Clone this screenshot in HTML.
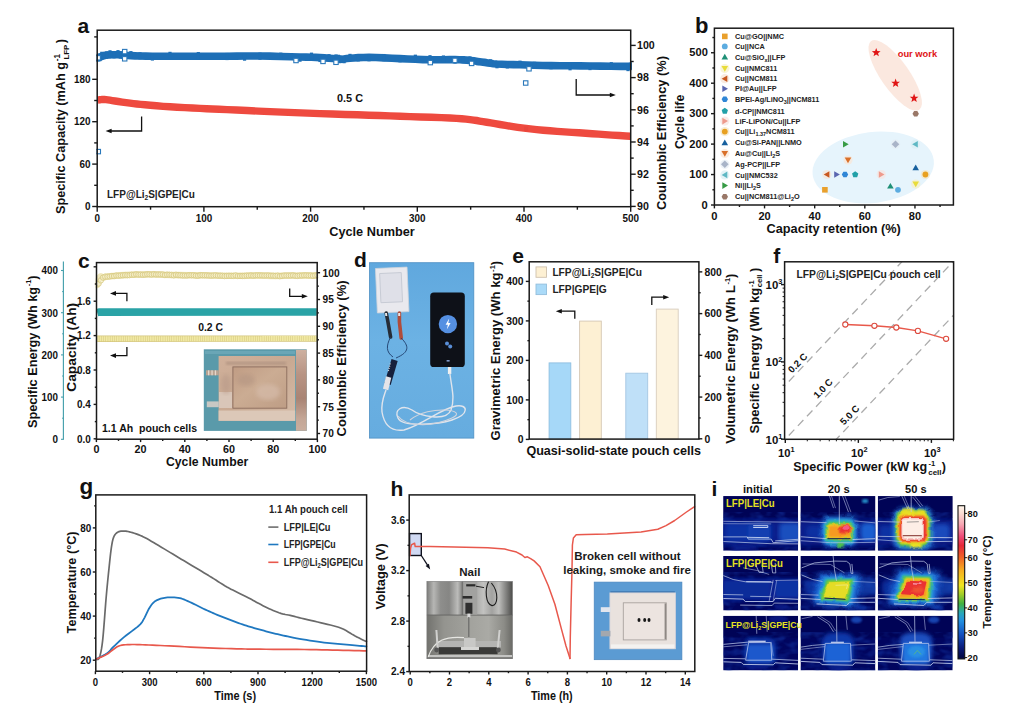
<!DOCTYPE html>
<html><head><meta charset="utf-8"><title>Figure</title>
<style>html,body{margin:0;padding:0;background:#fff;}svg{display:block;}text{font-family:"Liberation Sans",sans-serif;}</style>
</head><body>
<svg width="1024" height="713" viewBox="0 0 1024 713">
<defs>
<clipPath id="clipA"><rect x="96.2" y="30.2" width="535.5" height="176.5"/></clipPath><clipPath id="clipC"><rect x="95.5" y="262.6" width="222.7" height="176.59999999999997"/></clipPath><linearGradient id="pouchC" x1="0" y1="0" x2="1" y2="1"><stop offset="0" stop-color="#d0b09a"/><stop offset="0.5" stop-color="#c8a992"/><stop offset="1" stop-color="#d6bca8"/></linearGradient>
<linearGradient id="pouchCin" x1="0" y1="0" x2="1" y2="1"><stop offset="0" stop-color="#c09c84"/><stop offset="0.45" stop-color="#cbac93"/><stop offset="1" stop-color="#be9d85"/></linearGradient>
<linearGradient id="rulerC" x1="0" y1="0" x2="0" y2="1"><stop offset="0" stop-color="#cdb0a0"/><stop offset="0.3" stop-color="#b89484"/><stop offset="0.6" stop-color="#a98474"/><stop offset="0.85" stop-color="#c4a696"/><stop offset="1" stop-color="#c9ae9e"/></linearGradient>
<filter id="b05"><feGaussianBlur stdDeviation="0.5"/></filter><filter id="b1"><feGaussianBlur stdDeviation="1"/></filter><filter id="b2"><feGaussianBlur stdDeviation="2"/></filter><filter id="b3"><feGaussianBlur stdDeviation="3"/></filter><filter id="b4"><feGaussianBlur stdDeviation="4.5"/></filter><linearGradient id="bgD" x1="0" y1="0" x2="0" y2="1"><stop offset="0" stop-color="#60a8de"/><stop offset="0.45" stop-color="#6cb2e4"/><stop offset="1" stop-color="#66acdf"/></linearGradient><clipPath id="clipF"><rect x="784.6" y="261.8" width="169.0" height="177.5"/></clipPath><linearGradient id="steelT" x1="0" y1="0" x2="1" y2="0"><stop offset="0" stop-color="#7c7c7a"/><stop offset="0.08" stop-color="#b6b6b4"/><stop offset="0.16" stop-color="#8e8e8c"/><stop offset="0.26" stop-color="#868684"/><stop offset="0.36" stop-color="#bcbcba"/><stop offset="0.42" stop-color="#7a7a78"/><stop offset="0.52" stop-color="#9c9c9a"/><stop offset="0.66" stop-color="#c2c2c0"/><stop offset="0.76" stop-color="#a2a2a0"/><stop offset="0.84" stop-color="#bebebc"/><stop offset="0.93" stop-color="#7e7e7c"/><stop offset="1" stop-color="#4c4c4a"/></linearGradient>
<linearGradient id="steelB" x1="0" y1="0" x2="1" y2="0"><stop offset="0" stop-color="#72726e"/><stop offset="0.2" stop-color="#94948f"/><stop offset="0.5" stop-color="#a2a29d"/><stop offset="0.72" stop-color="#aaaaa5"/><stop offset="0.9" stop-color="#8c8c87"/><stop offset="1" stop-color="#6a6a66"/></linearGradient><linearGradient id="cbar" x1="0" y1="1" x2="0" y2="0"><stop offset="0" stop-color="#03063c"/><stop offset="0.07" stop-color="#0a1a78"/><stop offset="0.16" stop-color="#1450c0"/><stop offset="0.25" stop-color="#2290e0"/><stop offset="0.30" stop-color="#28a8b8"/><stop offset="0.36" stop-color="#40b040"/><stop offset="0.42" stop-color="#a0cc28"/><stop offset="0.48" stop-color="#f0e420"/><stop offset="0.58" stop-color="#f6ac20"/><stop offset="0.66" stop-color="#f06424"/><stop offset="0.74" stop-color="#e62838"/><stop offset="0.80" stop-color="#ee4c78"/><stop offset="0.88" stop-color="#f6a8b4"/><stop offset="0.95" stop-color="#fadcd4"/><stop offset="1" stop-color="#fff6ea"/></linearGradient>
<filter id="tnoise" x="0" y="0" width="100%" height="100%" color-interpolation-filters="sRGB"><feTurbulence type="fractalNoise" baseFrequency="0.09 0.16" numOctaves="2" seed="5"/><feColorMatrix type="matrix" values="0 0 0 0 0.07  0 0 0 0 0.20  0 0 0 0 0.62  2.6 0 0 0 -1.05"/><feGaussianBlur stdDeviation="0.6"/></filter>
<filter id="rough" x="-10%" y="-10%" width="120%" height="120%"><feTurbulence type="fractalNoise" baseFrequency="0.16" numOctaves="2" seed="11" result="t"/><feDisplacementMap in="SourceGraphic" in2="t" scale="3.4" xChannelSelector="R" yChannelSelector="G"/></filter>
<filter id="b15"><feGaussianBlur stdDeviation="1.5"/></filter><filter id="b07"><feGaussianBlur stdDeviation="0.7"/></filter><clipPath id="ci00"><rect x="723.2" y="496.1" width="74.9" height="54.6"/></clipPath><clipPath id="ci01"><rect x="800.5" y="496.1" width="74.9" height="54.6"/></clipPath><clipPath id="ci02"><rect x="877.8" y="496.1" width="74.9" height="54.6"/></clipPath><clipPath id="ci10"><rect x="723.2" y="555.9" width="74.9" height="54.6"/></clipPath><clipPath id="ci11"><rect x="800.5" y="555.9" width="74.9" height="54.6"/></clipPath><clipPath id="ci12"><rect x="877.8" y="555.9" width="74.9" height="54.6"/></clipPath><clipPath id="ci20"><rect x="723.2" y="615.8" width="74.9" height="54.6"/></clipPath><clipPath id="ci21"><rect x="800.5" y="615.8" width="74.9" height="54.6"/></clipPath><clipPath id="ci22"><rect x="877.8" y="615.8" width="74.9" height="54.6"/></clipPath>
</defs>
<rect width="1024" height="713" fill="#ffffff"/>
<g clip-path="url(#clipA)">
<polyline points="97.60,100.20 98.17,100.08 98.99,99.90 99.96,99.72 101.00,99.60 102.04,99.52 103.15,99.47 104.43,99.49 106.00,99.60 107.83,99.83 109.88,100.16 112.23,100.56 115.00,101.00 118.33,101.51 122.12,102.09 126.11,102.67 130.00,103.20 133.52,103.63 136.88,104.01 140.55,104.39 145.00,104.80 150.43,105.28 156.56,105.80 163.16,106.32 170.00,106.80 177.22,107.24 184.88,107.65 192.59,108.04 200.00,108.40 206.59,108.71 212.69,108.98 219.20,109.25 227.00,109.60 236.46,110.04 247.06,110.55 258.38,111.08 270.00,111.60 282.03,112.11 294.62,112.62 307.41,113.13 320.00,113.60 332.51,114.03 345.06,114.44 357.34,114.82 369.00,115.20 379.84,115.56 390.06,115.91 400.01,116.25 410.00,116.60 420.54,116.95 431.31,117.29 441.43,117.64 450.00,118.00 456.57,118.38 461.69,118.76 465.96,119.17 470.00,119.60 473.65,120.05 476.69,120.52 479.63,121.03 483.00,121.60 486.80,122.24 490.81,122.94 495.16,123.70 500.00,124.50 505.46,125.39 511.44,126.37 517.70,127.33 524.00,128.20 530.29,128.94 536.69,129.61 543.24,130.22 550.00,130.80 557.11,131.35 564.50,131.85 571.89,132.33 579.00,132.80 585.73,133.27 592.23,133.72 598.62,134.16 605.00,134.60 611.97,135.07 619.27,135.56 625.77,136.00 630.30,136.30" fill="none" stroke="#ee4a3f" stroke-width="7.4" stroke-linejoin="round" stroke-linecap="butt"/>
<polyline points="97.60,58.50 97.99,58.27 98.55,57.95 99.23,57.58 100.00,57.20 100.84,56.80 101.78,56.36 102.82,55.94 104.00,55.60 105.31,55.35 106.75,55.16 108.31,55.01 110.00,54.90 111.89,54.82 113.96,54.77 116.04,54.77 118.00,54.80 119.56,54.88 120.89,55.00 122.45,55.15 124.70,55.30 127.58,55.47 130.89,55.66 134.94,55.85 140.00,56.00 145.83,56.11 152.39,56.20 160.26,56.26 170.00,56.30 182.91,56.31 198.31,56.28 213.80,56.24 227.00,56.20 236.77,56.13 244.56,56.03 251.82,55.97 260.00,56.00 269.98,56.17 280.81,56.45 291.24,56.75 300.00,57.00 306.50,57.16 311.50,57.29 315.75,57.42 320.00,57.60 324.56,57.87 329.00,58.20 332.94,58.53 336.00,58.80 337.70,59.03 338.38,59.25 338.86,59.39 340.00,59.40 341.87,59.22 344.06,58.89 346.73,58.51 350.00,58.20 353.84,57.93 358.19,57.65 363.20,57.45 369.00,57.40 375.93,57.56 383.81,57.88 392.04,58.25 400.00,58.60 407.69,58.93 415.38,59.29 422.88,59.60 430.00,59.80 436.84,59.82 443.44,59.72 449.57,59.61 455.00,59.60 459.45,59.70 463.12,59.86 466.48,60.09 470.00,60.40 473.82,60.85 477.69,61.41 481.46,61.99 485.00,62.50 487.95,62.93 490.50,63.33 493.30,63.69 497.00,64.00 501.79,64.25 507.31,64.44 513.43,64.62 520.00,64.80 527.00,65.01 534.50,65.22 542.50,65.43 551.00,65.60 560.21,65.73 570.06,65.82 580.13,65.91 590.00,66.00 600.41,66.11 611.29,66.22 621.03,66.33 628.00,66.40 631.14,66.43 631.52,66.43 630.72,66.41 630.30,66.40" fill="none" stroke="#1e6fb6" stroke-width="7.6" stroke-linejoin="round" stroke-linecap="butt"/>
<rect x="96.00" y="54.48" width="3.20" height="7.20" fill="#1e6fb6" stroke="none" stroke-width="1" />
<rect x="96.95" y="53.51" width="3.20" height="7.20" fill="#1e6fb6" stroke="none" stroke-width="1" />
<rect x="98.40" y="53.96" width="3.20" height="7.20" fill="#1e6fb6" stroke="none" stroke-width="1" />
<rect x="100.18" y="51.74" width="3.20" height="7.20" fill="#1e6fb6" stroke="none" stroke-width="1" />
<rect x="102.40" y="52.09" width="3.20" height="7.20" fill="#1e6fb6" stroke="none" stroke-width="1" />
<rect x="105.15" y="51.23" width="3.20" height="7.20" fill="#1e6fb6" stroke="none" stroke-width="1" />
<rect x="108.40" y="50.24" width="3.20" height="7.20" fill="#1e6fb6" stroke="none" stroke-width="1" />
<rect x="112.36" y="51.19" width="3.20" height="7.20" fill="#1e6fb6" stroke="none" stroke-width="1" />
<rect x="116.40" y="50.09" width="3.20" height="7.20" fill="#1e6fb6" stroke="none" stroke-width="1" />
<rect x="119.29" y="51.24" width="3.20" height="7.20" fill="#1e6fb6" stroke="none" stroke-width="1" />
<rect x="123.10" y="50.67" width="3.20" height="7.20" fill="#1e6fb6" stroke="none" stroke-width="1" />
<rect x="129.29" y="51.08" width="3.20" height="7.20" fill="#1e6fb6" stroke="none" stroke-width="1" />
<rect x="138.40" y="52.22" width="3.20" height="7.20" fill="#1e6fb6" stroke="none" stroke-width="1" />
<rect x="150.79" y="53.38" width="3.20" height="7.20" fill="#1e6fb6" stroke="none" stroke-width="1" />
<rect x="168.40" y="51.80" width="3.20" height="7.20" fill="#1e6fb6" stroke="none" stroke-width="1" />
<rect x="196.71" y="52.02" width="3.20" height="7.20" fill="#1e6fb6" stroke="none" stroke-width="1" />
<rect x="225.40" y="52.91" width="3.20" height="7.20" fill="#1e6fb6" stroke="none" stroke-width="1" />
<rect x="242.96" y="53.51" width="3.20" height="7.20" fill="#1e6fb6" stroke="none" stroke-width="1" />
<rect x="258.40" y="52.59" width="3.20" height="7.20" fill="#1e6fb6" stroke="none" stroke-width="1" />
<rect x="279.21" y="52.60" width="3.20" height="7.20" fill="#1e6fb6" stroke="none" stroke-width="1" />
<rect x="298.40" y="54.54" width="3.20" height="7.20" fill="#1e6fb6" stroke="none" stroke-width="1" />
<rect x="309.90" y="52.60" width="3.20" height="7.20" fill="#1e6fb6" stroke="none" stroke-width="1" />
<rect x="318.40" y="54.86" width="3.20" height="7.20" fill="#1e6fb6" stroke="none" stroke-width="1" />
<rect x="327.40" y="54.10" width="3.20" height="7.20" fill="#1e6fb6" stroke="none" stroke-width="1" />
<rect x="334.40" y="54.35" width="3.20" height="7.20" fill="#1e6fb6" stroke="none" stroke-width="1" />
<rect x="336.77" y="54.73" width="3.20" height="7.20" fill="#1e6fb6" stroke="none" stroke-width="1" />
<rect x="338.40" y="55.34" width="3.20" height="7.20" fill="#1e6fb6" stroke="none" stroke-width="1" />
<rect x="342.46" y="56.05" width="3.20" height="7.20" fill="#1e6fb6" stroke="none" stroke-width="1" />
<rect x="348.40" y="53.83" width="3.20" height="7.20" fill="#1e6fb6" stroke="none" stroke-width="1" />
<rect x="356.59" y="54.25" width="3.20" height="7.20" fill="#1e6fb6" stroke="none" stroke-width="1" />
<rect x="367.40" y="54.13" width="3.20" height="7.20" fill="#1e6fb6" stroke="none" stroke-width="1" />
<rect x="382.21" y="53.97" width="3.20" height="7.20" fill="#1e6fb6" stroke="none" stroke-width="1" />
<rect x="398.40" y="55.11" width="3.20" height="7.20" fill="#1e6fb6" stroke="none" stroke-width="1" />
<rect x="413.77" y="54.64" width="3.20" height="7.20" fill="#1e6fb6" stroke="none" stroke-width="1" />
<rect x="428.40" y="55.14" width="3.20" height="7.20" fill="#1e6fb6" stroke="none" stroke-width="1" />
<rect x="441.84" y="55.42" width="3.20" height="7.20" fill="#1e6fb6" stroke="none" stroke-width="1" />
<rect x="453.40" y="56.43" width="3.20" height="7.20" fill="#1e6fb6" stroke="none" stroke-width="1" />
<rect x="461.52" y="56.08" width="3.20" height="7.20" fill="#1e6fb6" stroke="none" stroke-width="1" />
<rect x="468.40" y="56.35" width="3.20" height="7.20" fill="#1e6fb6" stroke="none" stroke-width="1" />
<rect x="476.09" y="58.01" width="3.20" height="7.20" fill="#1e6fb6" stroke="none" stroke-width="1" />
<rect x="483.40" y="58.79" width="3.20" height="7.20" fill="#1e6fb6" stroke="none" stroke-width="1" />
<rect x="488.90" y="59.25" width="3.20" height="7.20" fill="#1e6fb6" stroke="none" stroke-width="1" />
<rect x="495.40" y="61.11" width="3.20" height="7.20" fill="#1e6fb6" stroke="none" stroke-width="1" />
<rect x="505.71" y="61.32" width="3.20" height="7.20" fill="#1e6fb6" stroke="none" stroke-width="1" />
<rect x="518.40" y="60.59" width="3.20" height="7.20" fill="#1e6fb6" stroke="none" stroke-width="1" />
<rect x="532.90" y="61.80" width="3.20" height="7.20" fill="#1e6fb6" stroke="none" stroke-width="1" />
<rect x="549.40" y="62.06" width="3.20" height="7.20" fill="#1e6fb6" stroke="none" stroke-width="1" />
<rect x="568.46" y="63.13" width="3.20" height="7.20" fill="#1e6fb6" stroke="none" stroke-width="1" />
<rect x="588.40" y="62.95" width="3.20" height="7.20" fill="#1e6fb6" stroke="none" stroke-width="1" />
<rect x="609.69" y="62.12" width="3.20" height="7.20" fill="#1e6fb6" stroke="none" stroke-width="1" />
<rect x="626.40" y="63.95" width="3.20" height="7.20" fill="#1e6fb6" stroke="none" stroke-width="1" />
<rect x="629.92" y="61.91" width="3.20" height="7.20" fill="#1e6fb6" stroke="none" stroke-width="1" />
<rect x="628.70" y="62.60" width="3.20" height="7.20" fill="#1e6fb6" stroke="none" stroke-width="1" />
<rect x="122.50" y="49.40" width="4.40" height="4.40" fill="#ffffff" stroke="#2a78bb" stroke-width="1.1" />
<rect x="122.50" y="56.60" width="4.40" height="4.40" fill="#ffffff" stroke="#2a78bb" stroke-width="1.1" />
<rect x="96.00" y="55.60" width="4.40" height="4.40" fill="#ffffff" stroke="#2a78bb" stroke-width="1.1" />
<rect x="428.10" y="60.40" width="4.40" height="4.40" fill="#ffffff" stroke="#2a78bb" stroke-width="1.1" />
<rect x="452.70" y="58.20" width="4.40" height="4.40" fill="#ffffff" stroke="#2a78bb" stroke-width="1.1" />
<rect x="469.40" y="61.20" width="4.40" height="4.40" fill="#ffffff" stroke="#2a78bb" stroke-width="1.1" />
<rect x="526.80" y="66.60" width="4.40" height="4.40" fill="#ffffff" stroke="#2a78bb" stroke-width="1.1" />
<rect x="523.50" y="80.80" width="4.40" height="4.40" fill="#ffffff" stroke="#2a78bb" stroke-width="1.1" />
<rect x="96.10" y="149.40" width="4.40" height="4.40" fill="#ffffff" stroke="#2a78bb" stroke-width="1.1" />
<rect x="293.80" y="58.30" width="4.40" height="4.40" fill="#ffffff" stroke="#2a78bb" stroke-width="1.1" />
<rect x="320.80" y="59.20" width="4.40" height="4.40" fill="#ffffff" stroke="#2a78bb" stroke-width="1.1" />
<rect x="333.80" y="60.10" width="4.40" height="4.40" fill="#ffffff" stroke="#2a78bb" stroke-width="1.1" />
<rect x="524.20" y="126.60" width="4.00" height="4.50" fill="#e8463c" stroke="none" stroke-width="1" />
</g>
<rect x="97.20" y="30.20" width="533.50" height="176.50" fill="none" stroke="#1a1a1a" stroke-width="1.5" />
<line x1="92.20" y1="206.50" x2="97.20" y2="206.50" stroke="#1a1a1a" stroke-width="1.4" />
<text x="90.40" y="210.24" font-size="10.4" font-weight="bold" text-anchor="end" fill="#111" font-family="Liberation Sans, sans-serif" textLength="5.5" lengthAdjust="spacingAndGlyphs" >0</text>
<line x1="92.20" y1="164.10" x2="97.20" y2="164.10" stroke="#1a1a1a" stroke-width="1.4" />
<text x="90.40" y="167.84" font-size="10.4" font-weight="bold" text-anchor="end" fill="#111" font-family="Liberation Sans, sans-serif" textLength="11.0" lengthAdjust="spacingAndGlyphs" >60</text>
<line x1="92.20" y1="121.70" x2="97.20" y2="121.70" stroke="#1a1a1a" stroke-width="1.4" />
<text x="90.40" y="125.44" font-size="10.4" font-weight="bold" text-anchor="end" fill="#111" font-family="Liberation Sans, sans-serif" textLength="16.5" lengthAdjust="spacingAndGlyphs" >120</text>
<line x1="92.20" y1="79.30" x2="97.20" y2="79.30" stroke="#1a1a1a" stroke-width="1.4" />
<text x="90.40" y="83.04" font-size="10.4" font-weight="bold" text-anchor="end" fill="#111" font-family="Liberation Sans, sans-serif" textLength="16.5" lengthAdjust="spacingAndGlyphs" >180</text>
<line x1="94.20" y1="185.30" x2="97.20" y2="185.30" stroke="#1a1a1a" stroke-width="1.4" />
<line x1="94.20" y1="142.90" x2="97.20" y2="142.90" stroke="#1a1a1a" stroke-width="1.4" />
<line x1="94.20" y1="100.50" x2="97.20" y2="100.50" stroke="#1a1a1a" stroke-width="1.4" />
<line x1="94.20" y1="36.90" x2="97.20" y2="36.90" stroke="#1a1a1a" stroke-width="1.4" />
<line x1="630.70" y1="206.40" x2="635.70" y2="206.40" stroke="#1a1a1a" stroke-width="1.4" />
<text x="637.00" y="210.29" font-size="10.8" font-weight="bold" text-anchor="start" fill="#111" font-family="Liberation Sans, sans-serif" textLength="11.8" lengthAdjust="spacingAndGlyphs" >90</text>
<line x1="630.70" y1="174.20" x2="635.70" y2="174.20" stroke="#1a1a1a" stroke-width="1.4" />
<text x="637.00" y="178.09" font-size="10.8" font-weight="bold" text-anchor="start" fill="#111" font-family="Liberation Sans, sans-serif" textLength="11.8" lengthAdjust="spacingAndGlyphs" >92</text>
<line x1="630.70" y1="142.00" x2="635.70" y2="142.00" stroke="#1a1a1a" stroke-width="1.4" />
<text x="637.00" y="145.89" font-size="10.8" font-weight="bold" text-anchor="start" fill="#111" font-family="Liberation Sans, sans-serif" textLength="11.8" lengthAdjust="spacingAndGlyphs" >94</text>
<line x1="630.70" y1="109.80" x2="635.70" y2="109.80" stroke="#1a1a1a" stroke-width="1.4" />
<text x="637.00" y="113.69" font-size="10.8" font-weight="bold" text-anchor="start" fill="#111" font-family="Liberation Sans, sans-serif" textLength="11.8" lengthAdjust="spacingAndGlyphs" >96</text>
<line x1="630.70" y1="77.60" x2="635.70" y2="77.60" stroke="#1a1a1a" stroke-width="1.4" />
<text x="637.00" y="81.49" font-size="10.8" font-weight="bold" text-anchor="start" fill="#111" font-family="Liberation Sans, sans-serif" textLength="11.8" lengthAdjust="spacingAndGlyphs" >98</text>
<line x1="630.70" y1="45.40" x2="635.70" y2="45.40" stroke="#1a1a1a" stroke-width="1.4" />
<text x="637.00" y="49.29" font-size="10.8" font-weight="bold" text-anchor="start" fill="#111" font-family="Liberation Sans, sans-serif" textLength="17.7" lengthAdjust="spacingAndGlyphs" >100</text>
<line x1="630.70" y1="190.30" x2="633.70" y2="190.30" stroke="#1a1a1a" stroke-width="1.4" />
<line x1="630.70" y1="158.10" x2="633.70" y2="158.10" stroke="#1a1a1a" stroke-width="1.4" />
<line x1="630.70" y1="125.90" x2="633.70" y2="125.90" stroke="#1a1a1a" stroke-width="1.4" />
<line x1="630.70" y1="93.70" x2="633.70" y2="93.70" stroke="#1a1a1a" stroke-width="1.4" />
<line x1="630.70" y1="61.50" x2="633.70" y2="61.50" stroke="#1a1a1a" stroke-width="1.4" />
<line x1="97.20" y1="206.70" x2="97.20" y2="211.70" stroke="#1a1a1a" stroke-width="1.4" />
<text x="97.20" y="222.04" font-size="10.4" font-weight="bold" text-anchor="middle" fill="#111" font-family="Liberation Sans, sans-serif" textLength="5.5" lengthAdjust="spacingAndGlyphs" >0</text>
<line x1="203.90" y1="206.70" x2="203.90" y2="211.70" stroke="#1a1a1a" stroke-width="1.4" />
<text x="203.90" y="222.04" font-size="10.4" font-weight="bold" text-anchor="middle" fill="#111" font-family="Liberation Sans, sans-serif" textLength="16.5" lengthAdjust="spacingAndGlyphs" >100</text>
<line x1="310.60" y1="206.70" x2="310.60" y2="211.70" stroke="#1a1a1a" stroke-width="1.4" />
<text x="310.60" y="222.04" font-size="10.4" font-weight="bold" text-anchor="middle" fill="#111" font-family="Liberation Sans, sans-serif" textLength="16.5" lengthAdjust="spacingAndGlyphs" >200</text>
<line x1="417.30" y1="206.70" x2="417.30" y2="211.70" stroke="#1a1a1a" stroke-width="1.4" />
<text x="417.30" y="222.04" font-size="10.4" font-weight="bold" text-anchor="middle" fill="#111" font-family="Liberation Sans, sans-serif" textLength="16.5" lengthAdjust="spacingAndGlyphs" >300</text>
<line x1="524.00" y1="206.70" x2="524.00" y2="211.70" stroke="#1a1a1a" stroke-width="1.4" />
<text x="524.00" y="222.04" font-size="10.4" font-weight="bold" text-anchor="middle" fill="#111" font-family="Liberation Sans, sans-serif" textLength="16.5" lengthAdjust="spacingAndGlyphs" >400</text>
<line x1="630.70" y1="206.70" x2="630.70" y2="211.70" stroke="#1a1a1a" stroke-width="1.4" />
<text x="630.70" y="222.04" font-size="10.4" font-weight="bold" text-anchor="middle" fill="#111" font-family="Liberation Sans, sans-serif" textLength="16.5" lengthAdjust="spacingAndGlyphs" >500</text>
<line x1="150.55" y1="206.70" x2="150.55" y2="209.70" stroke="#1a1a1a" stroke-width="1.4" />
<line x1="257.25" y1="206.70" x2="257.25" y2="209.70" stroke="#1a1a1a" stroke-width="1.4" />
<line x1="363.95" y1="206.70" x2="363.95" y2="209.70" stroke="#1a1a1a" stroke-width="1.4" />
<line x1="470.65" y1="206.70" x2="470.65" y2="209.70" stroke="#1a1a1a" stroke-width="1.4" />
<line x1="577.35" y1="206.70" x2="577.35" y2="209.70" stroke="#1a1a1a" stroke-width="1.4" />
<text x="372.00" y="236.04" font-size="12.6" font-weight="bold" text-anchor="middle" fill="#111" font-family="Liberation Sans, sans-serif" textLength="85.5" lengthAdjust="spacingAndGlyphs" >Cycle Number</text>
<g transform="rotate(-90 65.2 214)"><text x="65.2" y="214" font-size="12.6" font-weight="bold" fill="#111" font-family="Liberation Sans, sans-serif" textLength="152" lengthAdjust="spacingAndGlyphs">Specific Capacity (mAh g</text><text x="218.0" y="208.6" font-size="8.2" font-weight="bold" fill="#111" font-family="Liberation Sans, sans-serif">-1</text><text x="219.6" y="217.4" font-size="7.8" font-weight="bold" fill="#111" font-family="Liberation Sans, sans-serif">LFP</text><text x="236.0" y="214" font-size="12.6" font-weight="bold" fill="#111" font-family="Liberation Sans, sans-serif">)</text></g>
<text x="665.60" y="133.00" font-size="12.6" font-weight="bold" text-anchor="middle" fill="#111" font-family="Liberation Sans, sans-serif" textLength="154.0" lengthAdjust="spacingAndGlyphs" transform="rotate(-90 665.60 133.00)">Coulombic Efficiency (%)</text>
<text x="77.50" y="33.40" font-size="21" font-weight="bold" text-anchor="start" fill="#111" font-family="Liberation Sans, sans-serif" >a</text>
<text x="337.00" y="102.36" font-size="11" font-weight="bold" text-anchor="start" fill="#111" font-family="Liberation Sans, sans-serif" textLength="26.0" lengthAdjust="spacingAndGlyphs" >0.5 C</text>
<text x="107" y="197.9" font-size="10" font-weight="bold" fill="#222" font-family="Liberation Sans, sans-serif">LFP@Li<tspan font-size="6.6" dy="2.2">2</tspan><tspan dy="-2.2">S|GPE|Cu</tspan></text>
<path d="M109.60,131.00 L141.60,131.00 L141.60,116.60" fill="none" stroke="#111" stroke-width="1.3"/>
<path d="M105.60,131.00 L111.60,128.70 L111.60,133.30 Z" fill="#111"/>
<path d="M611.80,95.00 L576.20,95.00 L576.20,79.00" fill="none" stroke="#111" stroke-width="1.3"/>
<path d="M615.80,95.00 L609.80,92.70 L609.80,97.30 Z" fill="#111"/>
<ellipse cx="873.2" cy="167.4" rx="61" ry="35.5" fill="#e6f4fc" transform="rotate(-7 873.2 167.4)"/>
<ellipse cx="895.2" cy="75.4" rx="42" ry="14.2" fill="#fbe8df" transform="rotate(55 895.2 75.4)"/>
<rect x="714.40" y="28.20" width="239.00" height="176.80" fill="none" stroke="#1a1a1a" stroke-width="1.5" />
<line x1="711.00" y1="205.00" x2="714.40" y2="205.00" stroke="#1a1a1a" stroke-width="1.4" />
<text x="707.80" y="208.60" font-size="11.1" font-weight="bold" text-anchor="end" fill="#111" font-family="Liberation Sans, sans-serif" textLength="6.2" lengthAdjust="spacingAndGlyphs" >0</text>
<line x1="711.00" y1="174.55" x2="714.40" y2="174.55" stroke="#1a1a1a" stroke-width="1.4" />
<text x="707.80" y="178.15" font-size="11.1" font-weight="bold" text-anchor="end" fill="#111" font-family="Liberation Sans, sans-serif" textLength="18.5" lengthAdjust="spacingAndGlyphs" >100</text>
<line x1="711.00" y1="144.10" x2="714.40" y2="144.10" stroke="#1a1a1a" stroke-width="1.4" />
<text x="707.80" y="147.70" font-size="11.1" font-weight="bold" text-anchor="end" fill="#111" font-family="Liberation Sans, sans-serif" textLength="18.5" lengthAdjust="spacingAndGlyphs" >200</text>
<line x1="711.00" y1="113.65" x2="714.40" y2="113.65" stroke="#1a1a1a" stroke-width="1.4" />
<text x="707.80" y="117.25" font-size="11.1" font-weight="bold" text-anchor="end" fill="#111" font-family="Liberation Sans, sans-serif" textLength="18.5" lengthAdjust="spacingAndGlyphs" >300</text>
<line x1="711.00" y1="83.20" x2="714.40" y2="83.20" stroke="#1a1a1a" stroke-width="1.4" />
<text x="707.80" y="86.80" font-size="11.1" font-weight="bold" text-anchor="end" fill="#111" font-family="Liberation Sans, sans-serif" textLength="18.5" lengthAdjust="spacingAndGlyphs" >400</text>
<line x1="711.00" y1="52.75" x2="714.40" y2="52.75" stroke="#1a1a1a" stroke-width="1.4" />
<text x="707.80" y="56.35" font-size="11.1" font-weight="bold" text-anchor="end" fill="#111" font-family="Liberation Sans, sans-serif" textLength="18.5" lengthAdjust="spacingAndGlyphs" >500</text>
<line x1="712.40" y1="189.78" x2="714.40" y2="189.78" stroke="#1a1a1a" stroke-width="1.4" />
<line x1="712.40" y1="159.32" x2="714.40" y2="159.32" stroke="#1a1a1a" stroke-width="1.4" />
<line x1="712.40" y1="128.88" x2="714.40" y2="128.88" stroke="#1a1a1a" stroke-width="1.4" />
<line x1="712.40" y1="98.42" x2="714.40" y2="98.42" stroke="#1a1a1a" stroke-width="1.4" />
<line x1="712.40" y1="67.97" x2="714.40" y2="67.97" stroke="#1a1a1a" stroke-width="1.4" />
<line x1="712.40" y1="37.53" x2="714.40" y2="37.53" stroke="#1a1a1a" stroke-width="1.4" />
<line x1="714.40" y1="205.00" x2="714.40" y2="208.40" stroke="#1a1a1a" stroke-width="1.4" />
<text x="714.40" y="220.20" font-size="11.1" font-weight="bold" text-anchor="middle" fill="#111" font-family="Liberation Sans, sans-serif" textLength="6.2" lengthAdjust="spacingAndGlyphs" >0</text>
<line x1="764.54" y1="205.00" x2="764.54" y2="208.40" stroke="#1a1a1a" stroke-width="1.4" />
<text x="764.54" y="220.20" font-size="11.1" font-weight="bold" text-anchor="middle" fill="#111" font-family="Liberation Sans, sans-serif" textLength="12.3" lengthAdjust="spacingAndGlyphs" >20</text>
<line x1="814.68" y1="205.00" x2="814.68" y2="208.40" stroke="#1a1a1a" stroke-width="1.4" />
<text x="814.68" y="220.20" font-size="11.1" font-weight="bold" text-anchor="middle" fill="#111" font-family="Liberation Sans, sans-serif" textLength="12.3" lengthAdjust="spacingAndGlyphs" >40</text>
<line x1="864.82" y1="205.00" x2="864.82" y2="208.40" stroke="#1a1a1a" stroke-width="1.4" />
<text x="864.82" y="220.20" font-size="11.1" font-weight="bold" text-anchor="middle" fill="#111" font-family="Liberation Sans, sans-serif" textLength="12.3" lengthAdjust="spacingAndGlyphs" >60</text>
<line x1="914.96" y1="205.00" x2="914.96" y2="208.40" stroke="#1a1a1a" stroke-width="1.4" />
<text x="914.96" y="220.20" font-size="11.1" font-weight="bold" text-anchor="middle" fill="#111" font-family="Liberation Sans, sans-serif" textLength="12.3" lengthAdjust="spacingAndGlyphs" >80</text>
<line x1="739.47" y1="205.00" x2="739.47" y2="207.00" stroke="#1a1a1a" stroke-width="1.4" />
<line x1="789.61" y1="205.00" x2="789.61" y2="207.00" stroke="#1a1a1a" stroke-width="1.4" />
<line x1="839.75" y1="205.00" x2="839.75" y2="207.00" stroke="#1a1a1a" stroke-width="1.4" />
<line x1="889.89" y1="205.00" x2="889.89" y2="207.00" stroke="#1a1a1a" stroke-width="1.4" />
<line x1="940.03" y1="205.00" x2="940.03" y2="207.00" stroke="#1a1a1a" stroke-width="1.4" />
<text x="833.70" y="233.34" font-size="12.6" font-weight="bold" text-anchor="middle" fill="#111" font-family="Liberation Sans, sans-serif" textLength="134.3" lengthAdjust="spacingAndGlyphs" >Capacity retention (%)</text>
<text x="683.80" y="121.80" font-size="12.6" font-weight="bold" text-anchor="middle" fill="#111" font-family="Liberation Sans, sans-serif" textLength="54.4" lengthAdjust="spacingAndGlyphs" transform="rotate(-90 683.80 121.80)">Cycle life</text>
<text x="694.90" y="33.30" font-size="22" font-weight="bold" text-anchor="start" fill="#111" font-family="Liberation Sans, sans-serif" >b</text>
<text x="897.70" y="56.78" font-size="9.4" font-weight="bold" text-anchor="start" fill="#e01515" font-family="Liberation Sans, sans-serif" textLength="39.4" lengthAdjust="spacingAndGlyphs" >our work</text>
<rect x="722.00" y="33.60" width="5.60" height="5.60" fill="#e9a02c" stroke="none" stroke-width="1" />
<rect x="822.10" y="187.00" width="5.60" height="5.60" fill="#e9a02c" stroke="none" stroke-width="1" />
<text x="735.1" y="39.00" font-size="7.3" font-weight="bold" fill="#222" font-family="Liberation Sans, sans-serif">Cu@GO||NMC</text>
<circle cx="724.80" cy="46.40" r="2.9" fill="#5cace0"/>
<circle cx="898.00" cy="189.80" r="2.9" fill="#5cace0"/>
<text x="735.1" y="49.00" font-size="7.3" font-weight="bold" fill="#222" font-family="Liberation Sans, sans-serif">Cu||NCA</text>
<polygon points="724.80,53.70 728.09,59.40 721.51,59.40" fill="#1f9077"/>
<polygon points="890.40,182.90 893.69,188.60 887.11,188.60" fill="#1f9077"/>
<text x="735.1" y="59.50" font-size="7.3" font-weight="bold" fill="#222" font-family="Liberation Sans, sans-serif">Cu@SiO<tspan font-size="5.5" dy="2">x</tspan><tspan dy="-2">||LFP</tspan></text>
<circle cx="724.80" cy="68.60" r="4.6" fill="#f6f0c4" opacity="0.7"/>
<polygon points="724.80,71.80 721.51,66.10 728.09,66.10" fill="#e8dc3a"/>
<circle cx="915.70" cy="184.10" r="4.6" fill="#f6f0c4" opacity="0.7"/>
<polygon points="915.70,187.30 912.41,181.60 918.99,181.60" fill="#e8dc3a"/>
<text x="735.1" y="71.20" font-size="7.3" font-weight="bold" fill="#222" font-family="Liberation Sans, sans-serif">Cu||NMC811</text>
<circle cx="724.80" cy="78.70" r="4.6" fill="#f7e3d3" opacity="0.7"/>
<polygon points="721.60,78.70 727.30,75.41 727.30,81.99" fill="#c8571f"/>
<circle cx="826.90" cy="174.50" r="4.6" fill="#f7e3d3" opacity="0.7"/>
<polygon points="823.70,174.50 829.40,171.21 829.40,177.79" fill="#c8571f"/>
<text x="735.1" y="81.30" font-size="7.3" font-weight="bold" fill="#222" font-family="Liberation Sans, sans-serif">Cu||NCM811</text>
<polygon points="728.00,88.80 722.30,92.09 722.30,85.51" fill="#5a66b0"/>
<polygon points="839.90,174.50 834.20,177.79 834.20,171.21" fill="#5a66b0"/>
<text x="735.1" y="91.40" font-size="7.3" font-weight="bold" fill="#222" font-family="Liberation Sans, sans-serif">PI@Au||LFP</text>
<polygon points="728.00,99.30 726.40,102.07 723.20,102.07 721.60,99.30 723.20,96.53 726.40,96.53" fill="#2f86d6"/>
<polygon points="848.20,174.50 846.60,177.27 843.40,177.27 841.80,174.50 843.40,171.73 846.60,171.73" fill="#2f86d6"/>
<text x="735.1" y="101.90" font-size="7.3" font-weight="bold" fill="#222" font-family="Liberation Sans, sans-serif">BPEI-Ag/LiNO<tspan font-size="5.5" dy="2">3</tspan><tspan dy="-2">||NCM811</tspan></text>
<polygon points="724.80,107.70 727.94,109.98 726.74,113.67 722.86,113.67 721.66,109.98" fill="#22a0a8"/>
<polygon points="855.20,171.20 858.34,173.48 857.14,177.17 853.26,177.17 852.06,173.48" fill="#22a0a8"/>
<text x="735.1" y="113.60" font-size="7.3" font-weight="bold" fill="#222" font-family="Liberation Sans, sans-serif">d-CP||NMC811</text>
<circle cx="724.80" cy="121.10" r="4.6" fill="#f7e4e0" opacity="0.7"/>
<polygon points="728.00,121.10 722.30,124.39 722.30,117.81" fill="#ee9a8c"/>
<circle cx="881.30" cy="174.50" r="4.6" fill="#f7e4e0" opacity="0.7"/>
<polygon points="884.50,174.50 878.80,177.79 878.80,171.21" fill="#ee9a8c"/>
<text x="735.1" y="123.70" font-size="7.3" font-weight="bold" fill="#222" font-family="Liberation Sans, sans-serif">LiF-LiPON/Cu||LFP</text>
<circle cx="724.80" cy="131.60" r="4.6" fill="#f5e4c0" opacity="0.7"/>
<circle cx="724.80" cy="131.60" r="2.9" fill="#e8a020"/>
<circle cx="925.40" cy="174.50" r="4.6" fill="#f5e4c0" opacity="0.7"/>
<circle cx="925.40" cy="174.50" r="2.9" fill="#e8a020"/>
<text x="735.1" y="134.20" font-size="7.3" font-weight="bold" fill="#222" font-family="Liberation Sans, sans-serif">Cu||Li<tspan font-size="5.5" dy="2">1.37</tspan><tspan dy="-2">NCM811</tspan></text>
<polygon points="724.80,139.50 728.09,145.20 721.51,145.20" fill="#17609e"/>
<polygon points="915.70,164.50 918.99,170.20 912.41,170.20" fill="#17609e"/>
<text x="735.1" y="145.30" font-size="7.3" font-weight="bold" fill="#222" font-family="Liberation Sans, sans-serif">Cu@Si-PAN||LNMO</text>
<circle cx="724.80" cy="153.50" r="4.6" fill="#f9e6d6" opacity="0.7"/>
<polygon points="724.80,156.70 721.51,151.00 728.09,151.00" fill="#d9702a"/>
<circle cx="848.00" cy="160.00" r="4.6" fill="#f9e6d6" opacity="0.7"/>
<polygon points="848.00,163.20 844.71,157.50 851.29,157.50" fill="#d9702a"/>
<text x="735.1" y="156.10" font-size="7.3" font-weight="bold" fill="#222" font-family="Liberation Sans, sans-serif">Au@Cu||Li<tspan font-size="5.5" dy="2">2</tspan><tspan dy="-2">S</tspan></text>
<circle cx="724.80" cy="164.30" r="4.6" fill="#e6edf3" opacity="0.7"/>
<polygon points="728.60,164.30 724.80,168.10 721.00,164.30 724.80,160.50" fill="#a9b4c8"/>
<circle cx="895.50" cy="144.20" r="4.6" fill="#e6edf3" opacity="0.7"/>
<polygon points="899.30,144.20 895.50,148.00 891.70,144.20 895.50,140.40" fill="#a9b4c8"/>
<text x="735.1" y="166.90" font-size="7.3" font-weight="bold" fill="#222" font-family="Liberation Sans, sans-serif">Ag-PCP||LFP</text>
<circle cx="724.80" cy="174.90" r="4.6" fill="#d8eef3" opacity="0.7"/>
<polygon points="721.60,174.90 727.30,171.61 727.30,178.19" fill="#5fb8c4"/>
<circle cx="915.30" cy="144.20" r="4.6" fill="#d8eef3" opacity="0.7"/>
<polygon points="912.10,144.20 917.80,140.91 917.80,147.49" fill="#5fb8c4"/>
<text x="735.1" y="177.50" font-size="7.3" font-weight="bold" fill="#222" font-family="Liberation Sans, sans-serif">Cu||NMC532</text>
<polygon points="728.00,185.60 722.30,188.89 722.30,182.31" fill="#379b45"/>
<polygon points="848.70,144.20 843.00,147.49 843.00,140.91" fill="#379b45"/>
<text x="735.1" y="188.20" font-size="7.3" font-weight="bold" fill="#222" font-family="Liberation Sans, sans-serif">Ni||Li<tspan font-size="5.5" dy="2">2</tspan><tspan dy="-2">S</tspan></text>
<polygon points="728.00,196.80 726.40,199.57 723.20,199.57 721.60,196.80 723.20,194.03 726.40,194.03" fill="#9a7868"/>
<polygon points="918.90,113.80 917.30,116.57 914.10,116.57 912.50,113.80 914.10,111.03 917.30,111.03" fill="#9a7868"/>
<text x="735.1" y="199.40" font-size="7.3" font-weight="bold" fill="#222" font-family="Liberation Sans, sans-serif">Cu||NCM811@Li<tspan font-size="5.5" dy="2">2</tspan><tspan dy="-2">O</tspan></text>
<polygon points="876.20,48.00 877.34,51.04 880.57,51.18 878.04,53.20 878.90,56.32 876.20,54.53 873.50,56.32 874.36,53.20 871.83,51.18 875.06,51.04" fill="#e01515"/>
<polygon points="895.60,78.60 896.74,81.64 899.97,81.78 897.44,83.80 898.30,86.92 895.60,85.13 892.90,86.92 893.76,83.80 891.23,81.78 894.46,81.64" fill="#e01515"/>
<polygon points="914.10,93.60 915.24,96.64 918.47,96.78 915.94,98.80 916.80,101.92 914.10,100.13 911.40,101.92 912.26,98.80 909.73,96.78 912.96,96.64" fill="#e01515"/>
<g clip-path="url(#clipC)">
<polyline points="97.00,285.00 97.14,284.37 97.35,283.46 97.60,282.50 97.90,281.50 98.25,280.44 98.60,279.50 98.92,278.76 99.24,278.14 99.60,277.60 100.01,277.06 100.47,276.60 101.00,276.40 101.62,276.69 102.31,277.24 103.00,277.60 103.56,277.54 104.11,277.28 105.00,277.00 106.26,276.75 107.85,276.47 110.00,276.20 112.78,275.93 116.11,275.67 120.00,275.40 124.63,275.11 129.81,274.82 135.00,274.60 139.81,274.46 144.63,274.39 150.00,274.40 155.93,274.55 162.41,274.79 170.00,275.00 179.26,275.15 189.63,275.27 200.00,275.40 210.00,275.56 220.00,275.71 230.00,275.80 240.56,275.76 251.11,275.64 260.00,275.60 266.11,275.72 270.56,275.90 275.00,276.00 279.56,275.91 284.13,275.73 290.00,275.60 299.05,275.57 309.41,275.59 316.80,275.60" fill="none" stroke="#f1e9be" stroke-width="6.6" stroke-linejoin="round" stroke-linecap="round"/>
<circle cx="98.61" cy="283.60" r="2.7" fill="#f8f2d0" fill-opacity="0.5" stroke="#d9cc84" stroke-width="0.9"/>
<circle cx="100.82" cy="280.40" r="2.7" fill="#f8f2d0" fill-opacity="0.5" stroke="#d9cc84" stroke-width="0.9"/>
<circle cx="103.03" cy="277.59" r="2.7" fill="#f8f2d0" fill-opacity="0.5" stroke="#d9cc84" stroke-width="0.9"/>
<circle cx="105.24" cy="276.63" r="2.7" fill="#f8f2d0" fill-opacity="0.5" stroke="#d9cc84" stroke-width="0.9"/>
<circle cx="107.45" cy="276.66" r="2.7" fill="#f8f2d0" fill-opacity="0.5" stroke="#d9cc84" stroke-width="0.9"/>
<circle cx="109.66" cy="276.43" r="2.7" fill="#f8f2d0" fill-opacity="0.5" stroke="#d9cc84" stroke-width="0.9"/>
<circle cx="111.87" cy="276.07" r="2.7" fill="#f8f2d0" fill-opacity="0.5" stroke="#d9cc84" stroke-width="0.9"/>
<circle cx="114.08" cy="276.09" r="2.7" fill="#f8f2d0" fill-opacity="0.5" stroke="#d9cc84" stroke-width="0.9"/>
<circle cx="116.29" cy="275.52" r="2.7" fill="#f8f2d0" fill-opacity="0.5" stroke="#d9cc84" stroke-width="0.9"/>
<circle cx="118.50" cy="275.64" r="2.7" fill="#f8f2d0" fill-opacity="0.5" stroke="#d9cc84" stroke-width="0.9"/>
<circle cx="120.71" cy="275.42" r="2.7" fill="#f8f2d0" fill-opacity="0.5" stroke="#d9cc84" stroke-width="0.9"/>
<circle cx="122.92" cy="275.27" r="2.7" fill="#f8f2d0" fill-opacity="0.5" stroke="#d9cc84" stroke-width="0.9"/>
<circle cx="125.13" cy="275.05" r="2.7" fill="#f8f2d0" fill-opacity="0.5" stroke="#d9cc84" stroke-width="0.9"/>
<circle cx="127.34" cy="275.20" r="2.7" fill="#f8f2d0" fill-opacity="0.5" stroke="#d9cc84" stroke-width="0.9"/>
<circle cx="129.55" cy="275.15" r="2.7" fill="#f8f2d0" fill-opacity="0.5" stroke="#d9cc84" stroke-width="0.9"/>
<circle cx="131.76" cy="274.72" r="2.7" fill="#f8f2d0" fill-opacity="0.5" stroke="#d9cc84" stroke-width="0.9"/>
<circle cx="133.97" cy="274.76" r="2.7" fill="#f8f2d0" fill-opacity="0.5" stroke="#d9cc84" stroke-width="0.9"/>
<circle cx="136.18" cy="274.26" r="2.7" fill="#f8f2d0" fill-opacity="0.5" stroke="#d9cc84" stroke-width="0.9"/>
<circle cx="138.39" cy="274.64" r="2.7" fill="#f8f2d0" fill-opacity="0.5" stroke="#d9cc84" stroke-width="0.9"/>
<circle cx="140.60" cy="274.55" r="2.7" fill="#f8f2d0" fill-opacity="0.5" stroke="#d9cc84" stroke-width="0.9"/>
<circle cx="142.81" cy="274.76" r="2.7" fill="#f8f2d0" fill-opacity="0.5" stroke="#d9cc84" stroke-width="0.9"/>
<circle cx="145.02" cy="274.61" r="2.7" fill="#f8f2d0" fill-opacity="0.5" stroke="#d9cc84" stroke-width="0.9"/>
<circle cx="147.23" cy="274.24" r="2.7" fill="#f8f2d0" fill-opacity="0.5" stroke="#d9cc84" stroke-width="0.9"/>
<circle cx="149.44" cy="274.32" r="2.7" fill="#f8f2d0" fill-opacity="0.5" stroke="#d9cc84" stroke-width="0.9"/>
<circle cx="151.65" cy="274.56" r="2.7" fill="#f8f2d0" fill-opacity="0.5" stroke="#d9cc84" stroke-width="0.9"/>
<circle cx="153.86" cy="274.16" r="2.7" fill="#f8f2d0" fill-opacity="0.5" stroke="#d9cc84" stroke-width="0.9"/>
<circle cx="156.07" cy="274.53" r="2.7" fill="#f8f2d0" fill-opacity="0.5" stroke="#d9cc84" stroke-width="0.9"/>
<circle cx="158.28" cy="274.40" r="2.7" fill="#f8f2d0" fill-opacity="0.5" stroke="#d9cc84" stroke-width="0.9"/>
<circle cx="160.49" cy="274.45" r="2.7" fill="#f8f2d0" fill-opacity="0.5" stroke="#d9cc84" stroke-width="0.9"/>
<circle cx="162.70" cy="274.48" r="2.7" fill="#f8f2d0" fill-opacity="0.5" stroke="#d9cc84" stroke-width="0.9"/>
<circle cx="164.91" cy="275.04" r="2.7" fill="#f8f2d0" fill-opacity="0.5" stroke="#d9cc84" stroke-width="0.9"/>
<circle cx="167.12" cy="274.66" r="2.7" fill="#f8f2d0" fill-opacity="0.5" stroke="#d9cc84" stroke-width="0.9"/>
<circle cx="169.33" cy="274.80" r="2.7" fill="#f8f2d0" fill-opacity="0.5" stroke="#d9cc84" stroke-width="0.9"/>
<circle cx="171.54" cy="274.95" r="2.7" fill="#f8f2d0" fill-opacity="0.5" stroke="#d9cc84" stroke-width="0.9"/>
<circle cx="173.75" cy="275.32" r="2.7" fill="#f8f2d0" fill-opacity="0.5" stroke="#d9cc84" stroke-width="0.9"/>
<circle cx="175.96" cy="274.80" r="2.7" fill="#f8f2d0" fill-opacity="0.5" stroke="#d9cc84" stroke-width="0.9"/>
<circle cx="178.17" cy="275.10" r="2.7" fill="#f8f2d0" fill-opacity="0.5" stroke="#d9cc84" stroke-width="0.9"/>
<circle cx="180.38" cy="275.20" r="2.7" fill="#f8f2d0" fill-opacity="0.5" stroke="#d9cc84" stroke-width="0.9"/>
<circle cx="182.59" cy="275.46" r="2.7" fill="#f8f2d0" fill-opacity="0.5" stroke="#d9cc84" stroke-width="0.9"/>
<circle cx="184.80" cy="275.44" r="2.7" fill="#f8f2d0" fill-opacity="0.5" stroke="#d9cc84" stroke-width="0.9"/>
<circle cx="187.01" cy="275.50" r="2.7" fill="#f8f2d0" fill-opacity="0.5" stroke="#d9cc84" stroke-width="0.9"/>
<circle cx="189.22" cy="275.11" r="2.7" fill="#f8f2d0" fill-opacity="0.5" stroke="#d9cc84" stroke-width="0.9"/>
<circle cx="191.43" cy="275.24" r="2.7" fill="#f8f2d0" fill-opacity="0.5" stroke="#d9cc84" stroke-width="0.9"/>
<circle cx="193.64" cy="275.22" r="2.7" fill="#f8f2d0" fill-opacity="0.5" stroke="#d9cc84" stroke-width="0.9"/>
<circle cx="195.85" cy="275.62" r="2.7" fill="#f8f2d0" fill-opacity="0.5" stroke="#d9cc84" stroke-width="0.9"/>
<circle cx="198.06" cy="275.70" r="2.7" fill="#f8f2d0" fill-opacity="0.5" stroke="#d9cc84" stroke-width="0.9"/>
<circle cx="200.27" cy="275.16" r="2.7" fill="#f8f2d0" fill-opacity="0.5" stroke="#d9cc84" stroke-width="0.9"/>
<circle cx="202.48" cy="275.21" r="2.7" fill="#f8f2d0" fill-opacity="0.5" stroke="#d9cc84" stroke-width="0.9"/>
<circle cx="204.69" cy="275.29" r="2.7" fill="#f8f2d0" fill-opacity="0.5" stroke="#d9cc84" stroke-width="0.9"/>
<circle cx="206.90" cy="275.32" r="2.7" fill="#f8f2d0" fill-opacity="0.5" stroke="#d9cc84" stroke-width="0.9"/>
<circle cx="209.11" cy="275.53" r="2.7" fill="#f8f2d0" fill-opacity="0.5" stroke="#d9cc84" stroke-width="0.9"/>
<circle cx="211.32" cy="275.64" r="2.7" fill="#f8f2d0" fill-opacity="0.5" stroke="#d9cc84" stroke-width="0.9"/>
<circle cx="213.53" cy="275.44" r="2.7" fill="#f8f2d0" fill-opacity="0.5" stroke="#d9cc84" stroke-width="0.9"/>
<circle cx="215.74" cy="275.30" r="2.7" fill="#f8f2d0" fill-opacity="0.5" stroke="#d9cc84" stroke-width="0.9"/>
<circle cx="217.95" cy="275.62" r="2.7" fill="#f8f2d0" fill-opacity="0.5" stroke="#d9cc84" stroke-width="0.9"/>
<circle cx="220.16" cy="275.62" r="2.7" fill="#f8f2d0" fill-opacity="0.5" stroke="#d9cc84" stroke-width="0.9"/>
<circle cx="222.37" cy="275.78" r="2.7" fill="#f8f2d0" fill-opacity="0.5" stroke="#d9cc84" stroke-width="0.9"/>
<circle cx="224.58" cy="276.07" r="2.7" fill="#f8f2d0" fill-opacity="0.5" stroke="#d9cc84" stroke-width="0.9"/>
<circle cx="226.79" cy="275.90" r="2.7" fill="#f8f2d0" fill-opacity="0.5" stroke="#d9cc84" stroke-width="0.9"/>
<circle cx="229.00" cy="275.80" r="2.7" fill="#f8f2d0" fill-opacity="0.5" stroke="#d9cc84" stroke-width="0.9"/>
<circle cx="231.21" cy="275.88" r="2.7" fill="#f8f2d0" fill-opacity="0.5" stroke="#d9cc84" stroke-width="0.9"/>
<circle cx="233.42" cy="275.91" r="2.7" fill="#f8f2d0" fill-opacity="0.5" stroke="#d9cc84" stroke-width="0.9"/>
<circle cx="235.63" cy="275.46" r="2.7" fill="#f8f2d0" fill-opacity="0.5" stroke="#d9cc84" stroke-width="0.9"/>
<circle cx="237.84" cy="276.05" r="2.7" fill="#f8f2d0" fill-opacity="0.5" stroke="#d9cc84" stroke-width="0.9"/>
<circle cx="240.05" cy="275.95" r="2.7" fill="#f8f2d0" fill-opacity="0.5" stroke="#d9cc84" stroke-width="0.9"/>
<circle cx="242.26" cy="276.00" r="2.7" fill="#f8f2d0" fill-opacity="0.5" stroke="#d9cc84" stroke-width="0.9"/>
<circle cx="244.47" cy="275.92" r="2.7" fill="#f8f2d0" fill-opacity="0.5" stroke="#d9cc84" stroke-width="0.9"/>
<circle cx="246.68" cy="275.62" r="2.7" fill="#f8f2d0" fill-opacity="0.5" stroke="#d9cc84" stroke-width="0.9"/>
<circle cx="248.89" cy="275.60" r="2.7" fill="#f8f2d0" fill-opacity="0.5" stroke="#d9cc84" stroke-width="0.9"/>
<circle cx="251.10" cy="275.37" r="2.7" fill="#f8f2d0" fill-opacity="0.5" stroke="#d9cc84" stroke-width="0.9"/>
<circle cx="253.31" cy="275.73" r="2.7" fill="#f8f2d0" fill-opacity="0.5" stroke="#d9cc84" stroke-width="0.9"/>
<circle cx="255.52" cy="275.32" r="2.7" fill="#f8f2d0" fill-opacity="0.5" stroke="#d9cc84" stroke-width="0.9"/>
<circle cx="257.73" cy="275.31" r="2.7" fill="#f8f2d0" fill-opacity="0.5" stroke="#d9cc84" stroke-width="0.9"/>
<circle cx="259.94" cy="275.40" r="2.7" fill="#f8f2d0" fill-opacity="0.5" stroke="#d9cc84" stroke-width="0.9"/>
<circle cx="262.15" cy="275.41" r="2.7" fill="#f8f2d0" fill-opacity="0.5" stroke="#d9cc84" stroke-width="0.9"/>
<circle cx="264.36" cy="275.57" r="2.7" fill="#f8f2d0" fill-opacity="0.5" stroke="#d9cc84" stroke-width="0.9"/>
<circle cx="266.57" cy="275.42" r="2.7" fill="#f8f2d0" fill-opacity="0.5" stroke="#d9cc84" stroke-width="0.9"/>
<circle cx="268.78" cy="275.48" r="2.7" fill="#f8f2d0" fill-opacity="0.5" stroke="#d9cc84" stroke-width="0.9"/>
<circle cx="270.99" cy="275.67" r="2.7" fill="#f8f2d0" fill-opacity="0.5" stroke="#d9cc84" stroke-width="0.9"/>
<circle cx="273.20" cy="275.68" r="2.7" fill="#f8f2d0" fill-opacity="0.5" stroke="#d9cc84" stroke-width="0.9"/>
<circle cx="275.41" cy="275.90" r="2.7" fill="#f8f2d0" fill-opacity="0.5" stroke="#d9cc84" stroke-width="0.9"/>
<circle cx="277.62" cy="275.62" r="2.7" fill="#f8f2d0" fill-opacity="0.5" stroke="#d9cc84" stroke-width="0.9"/>
<circle cx="279.83" cy="276.16" r="2.7" fill="#f8f2d0" fill-opacity="0.5" stroke="#d9cc84" stroke-width="0.9"/>
<circle cx="282.04" cy="275.89" r="2.7" fill="#f8f2d0" fill-opacity="0.5" stroke="#d9cc84" stroke-width="0.9"/>
<circle cx="284.25" cy="275.48" r="2.7" fill="#f8f2d0" fill-opacity="0.5" stroke="#d9cc84" stroke-width="0.9"/>
<circle cx="286.46" cy="275.51" r="2.7" fill="#f8f2d0" fill-opacity="0.5" stroke="#d9cc84" stroke-width="0.9"/>
<circle cx="288.67" cy="275.52" r="2.7" fill="#f8f2d0" fill-opacity="0.5" stroke="#d9cc84" stroke-width="0.9"/>
<circle cx="290.88" cy="275.50" r="2.7" fill="#f8f2d0" fill-opacity="0.5" stroke="#d9cc84" stroke-width="0.9"/>
<circle cx="293.09" cy="275.33" r="2.7" fill="#f8f2d0" fill-opacity="0.5" stroke="#d9cc84" stroke-width="0.9"/>
<circle cx="295.30" cy="275.83" r="2.7" fill="#f8f2d0" fill-opacity="0.5" stroke="#d9cc84" stroke-width="0.9"/>
<circle cx="297.51" cy="275.92" r="2.7" fill="#f8f2d0" fill-opacity="0.5" stroke="#d9cc84" stroke-width="0.9"/>
<circle cx="299.72" cy="275.55" r="2.7" fill="#f8f2d0" fill-opacity="0.5" stroke="#d9cc84" stroke-width="0.9"/>
<circle cx="301.93" cy="275.56" r="2.7" fill="#f8f2d0" fill-opacity="0.5" stroke="#d9cc84" stroke-width="0.9"/>
<circle cx="304.14" cy="275.29" r="2.7" fill="#f8f2d0" fill-opacity="0.5" stroke="#d9cc84" stroke-width="0.9"/>
<circle cx="306.35" cy="275.30" r="2.7" fill="#f8f2d0" fill-opacity="0.5" stroke="#d9cc84" stroke-width="0.9"/>
<circle cx="308.56" cy="275.47" r="2.7" fill="#f8f2d0" fill-opacity="0.5" stroke="#d9cc84" stroke-width="0.9"/>
<circle cx="310.77" cy="275.42" r="2.7" fill="#f8f2d0" fill-opacity="0.5" stroke="#d9cc84" stroke-width="0.9"/>
<circle cx="312.98" cy="275.82" r="2.7" fill="#f8f2d0" fill-opacity="0.5" stroke="#d9cc84" stroke-width="0.9"/>
<circle cx="315.19" cy="275.36" r="2.7" fill="#f8f2d0" fill-opacity="0.5" stroke="#d9cc84" stroke-width="0.9"/>
<circle cx="317.40" cy="275.27" r="2.7" fill="#f8f2d0" fill-opacity="0.5" stroke="#d9cc84" stroke-width="0.9"/>
<polyline points="97.20,312.60 99.00,312.10 316.80,312.00" fill="none" stroke="#2aa3a6" stroke-width="7.6" stroke-linejoin="round" stroke-linecap="butt"/>
<polyline points="97.20,338.70 316.80,338.60" fill="none" stroke="#d4c67e" stroke-width="6.4" stroke-linecap="butt"/>
<polyline points="97.20,338.70 316.80,338.60" fill="none" stroke="#f1e9a4" stroke-width="5.0" stroke-linecap="butt" stroke-dasharray="1.7 0.5"/>
</g>
<rect x="203.80" y="349.30" width="102.90" height="81.60" fill="#5a9aaa" stroke="none" stroke-width="1" />
<rect x="205.00" y="351.00" width="90.00" height="3.00" fill="#6aa6b6" stroke="none" stroke-width="1" />
<rect x="296.00" y="349.80" width="10.70" height="81.00" fill="url(#rulerC)" stroke="none" stroke-width="1" />
<rect x="218.60" y="356.00" width="76.60" height="64.80" fill="url(#pouchC)" stroke="none" stroke-width="1" />
<rect x="218.60" y="410.50" width="76.60" height="10.30" fill="#dcc8b8" stroke="none" stroke-width="1" />
<rect x="232.90" y="366.90" width="53.90" height="41.30" fill="url(#pouchCin)" stroke="#8a6c5c" stroke-width="0.9" />
<rect x="219.00" y="392.00" width="13.00" height="16.00" fill="#d9c6b8" stroke="none" stroke-width="1" />
<ellipse cx="246" cy="380" rx="9" ry="6" fill="#b79884" filter="url(#b2)" opacity="0.7"/><ellipse cx="268" cy="392" rx="12" ry="8" fill="#d6bcaa" filter="url(#b2)" opacity="0.7"/><ellipse cx="226" cy="384" rx="5" ry="10" fill="#b89a88" filter="url(#b2)" opacity="0.6"/>
<rect x="226.00" y="361.60" width="60.00" height="3.20" fill="#b29482" stroke="none" stroke-width="1" filter="url(#b1)" opacity="0.8"/>
<rect x="206.00" y="370.30" width="12.80" height="5.00" fill="#b9a392" stroke="none" stroke-width="1" />
<rect x="208.00" y="370.30" width="1.30" height="5.00" fill="#e6d8cc" stroke="none" stroke-width="1" />
<rect x="211.40" y="370.30" width="1.30" height="5.00" fill="#e6d8cc" stroke="none" stroke-width="1" />
<rect x="214.80" y="370.30" width="1.30" height="5.00" fill="#e6d8cc" stroke="none" stroke-width="1" />
<rect x="206.80" y="401.40" width="12.00" height="5.80" fill="#c8c8c4" stroke="none" stroke-width="1" />
<rect x="96.50" y="262.60" width="220.70" height="176.60" fill="none" stroke="#1a1a1a" stroke-width="1.5" />
<line x1="63.40" y1="261.50" x2="63.40" y2="439.80" stroke="#45a0ac" stroke-width="1.15" />
<line x1="61.00" y1="439.30" x2="63.40" y2="439.30" stroke="#45a0ac" stroke-width="1.1" />
<text x="57.90" y="443.12" font-size="10.6" font-weight="bold" text-anchor="end" fill="#111" font-family="Liberation Sans, sans-serif" textLength="5.5" lengthAdjust="spacingAndGlyphs" >0</text>
<line x1="61.00" y1="397.10" x2="63.40" y2="397.10" stroke="#45a0ac" stroke-width="1.1" />
<text x="57.90" y="400.92" font-size="10.6" font-weight="bold" text-anchor="end" fill="#111" font-family="Liberation Sans, sans-serif" textLength="16.4" lengthAdjust="spacingAndGlyphs" >100</text>
<line x1="61.00" y1="354.90" x2="63.40" y2="354.90" stroke="#45a0ac" stroke-width="1.1" />
<text x="57.90" y="358.72" font-size="10.6" font-weight="bold" text-anchor="end" fill="#111" font-family="Liberation Sans, sans-serif" textLength="16.4" lengthAdjust="spacingAndGlyphs" >200</text>
<line x1="61.00" y1="312.70" x2="63.40" y2="312.70" stroke="#45a0ac" stroke-width="1.1" />
<text x="57.90" y="316.52" font-size="10.6" font-weight="bold" text-anchor="end" fill="#111" font-family="Liberation Sans, sans-serif" textLength="16.4" lengthAdjust="spacingAndGlyphs" >300</text>
<line x1="61.00" y1="270.50" x2="63.40" y2="270.50" stroke="#45a0ac" stroke-width="1.1" />
<text x="57.90" y="274.32" font-size="10.6" font-weight="bold" text-anchor="end" fill="#111" font-family="Liberation Sans, sans-serif" textLength="16.4" lengthAdjust="spacingAndGlyphs" >400</text>
<line x1="62.00" y1="418.20" x2="63.40" y2="418.20" stroke="#45a0ac" stroke-width="0.9" />
<line x1="62.00" y1="376.00" x2="63.40" y2="376.00" stroke="#45a0ac" stroke-width="0.9" />
<line x1="62.00" y1="333.80" x2="63.40" y2="333.80" stroke="#45a0ac" stroke-width="0.9" />
<line x1="62.00" y1="291.60" x2="63.40" y2="291.60" stroke="#45a0ac" stroke-width="0.9" />
<line x1="93.60" y1="438.80" x2="96.50" y2="438.80" stroke="#1a1a1a" stroke-width="1.4" />
<text x="90.80" y="442.62" font-size="10.6" font-weight="bold" text-anchor="end" fill="#111" font-family="Liberation Sans, sans-serif" textLength="13.8" lengthAdjust="spacingAndGlyphs" >0.0</text>
<line x1="93.60" y1="404.40" x2="96.50" y2="404.40" stroke="#1a1a1a" stroke-width="1.4" />
<text x="90.80" y="408.22" font-size="10.6" font-weight="bold" text-anchor="end" fill="#111" font-family="Liberation Sans, sans-serif" textLength="13.8" lengthAdjust="spacingAndGlyphs" >0.4</text>
<line x1="93.60" y1="370.00" x2="96.50" y2="370.00" stroke="#1a1a1a" stroke-width="1.4" />
<text x="90.80" y="373.82" font-size="10.6" font-weight="bold" text-anchor="end" fill="#111" font-family="Liberation Sans, sans-serif" textLength="13.8" lengthAdjust="spacingAndGlyphs" >0.8</text>
<line x1="93.60" y1="335.60" x2="96.50" y2="335.60" stroke="#1a1a1a" stroke-width="1.4" />
<text x="90.80" y="339.42" font-size="10.6" font-weight="bold" text-anchor="end" fill="#111" font-family="Liberation Sans, sans-serif" textLength="13.8" lengthAdjust="spacingAndGlyphs" >1.2</text>
<line x1="93.60" y1="301.20" x2="96.50" y2="301.20" stroke="#1a1a1a" stroke-width="1.4" />
<text x="90.80" y="305.02" font-size="10.6" font-weight="bold" text-anchor="end" fill="#111" font-family="Liberation Sans, sans-serif" textLength="13.8" lengthAdjust="spacingAndGlyphs" >1.6</text>
<line x1="94.80" y1="421.60" x2="96.50" y2="421.60" stroke="#1a1a1a" stroke-width="1.4" />
<line x1="94.80" y1="387.20" x2="96.50" y2="387.20" stroke="#1a1a1a" stroke-width="1.4" />
<line x1="94.80" y1="352.80" x2="96.50" y2="352.80" stroke="#1a1a1a" stroke-width="1.4" />
<line x1="94.80" y1="318.40" x2="96.50" y2="318.40" stroke="#1a1a1a" stroke-width="1.4" />
<line x1="94.80" y1="284.00" x2="96.50" y2="284.00" stroke="#1a1a1a" stroke-width="1.4" />
<line x1="93.60" y1="266.80" x2="96.50" y2="266.80" stroke="#1a1a1a" stroke-width="1.4" />
<line x1="317.20" y1="433.50" x2="320.10" y2="433.50" stroke="#1a1a1a" stroke-width="1.4" />
<text x="322.60" y="437.32" font-size="10.6" font-weight="bold" text-anchor="start" fill="#111" font-family="Liberation Sans, sans-serif" textLength="11.3" lengthAdjust="spacingAndGlyphs" >70</text>
<line x1="317.20" y1="406.70" x2="320.10" y2="406.70" stroke="#1a1a1a" stroke-width="1.4" />
<text x="322.60" y="410.52" font-size="10.6" font-weight="bold" text-anchor="start" fill="#111" font-family="Liberation Sans, sans-serif" textLength="11.3" lengthAdjust="spacingAndGlyphs" >75</text>
<line x1="317.20" y1="379.90" x2="320.10" y2="379.90" stroke="#1a1a1a" stroke-width="1.4" />
<text x="322.60" y="383.72" font-size="10.6" font-weight="bold" text-anchor="start" fill="#111" font-family="Liberation Sans, sans-serif" textLength="11.3" lengthAdjust="spacingAndGlyphs" >80</text>
<line x1="317.20" y1="353.10" x2="320.10" y2="353.10" stroke="#1a1a1a" stroke-width="1.4" />
<text x="322.60" y="356.92" font-size="10.6" font-weight="bold" text-anchor="start" fill="#111" font-family="Liberation Sans, sans-serif" textLength="11.3" lengthAdjust="spacingAndGlyphs" >85</text>
<line x1="317.20" y1="326.30" x2="320.10" y2="326.30" stroke="#1a1a1a" stroke-width="1.4" />
<text x="322.60" y="330.12" font-size="10.6" font-weight="bold" text-anchor="start" fill="#111" font-family="Liberation Sans, sans-serif" textLength="11.3" lengthAdjust="spacingAndGlyphs" >90</text>
<line x1="317.20" y1="299.50" x2="320.10" y2="299.50" stroke="#1a1a1a" stroke-width="1.4" />
<text x="322.60" y="303.32" font-size="10.6" font-weight="bold" text-anchor="start" fill="#111" font-family="Liberation Sans, sans-serif" textLength="11.3" lengthAdjust="spacingAndGlyphs" >95</text>
<line x1="317.20" y1="272.70" x2="320.10" y2="272.70" stroke="#1a1a1a" stroke-width="1.4" />
<text x="322.60" y="276.52" font-size="10.6" font-weight="bold" text-anchor="start" fill="#111" font-family="Liberation Sans, sans-serif" textLength="17.0" lengthAdjust="spacingAndGlyphs" >100</text>
<line x1="317.20" y1="420.10" x2="318.90" y2="420.10" stroke="#1a1a1a" stroke-width="1.4" />
<line x1="317.20" y1="393.30" x2="318.90" y2="393.30" stroke="#1a1a1a" stroke-width="1.4" />
<line x1="317.20" y1="366.50" x2="318.90" y2="366.50" stroke="#1a1a1a" stroke-width="1.4" />
<line x1="317.20" y1="339.70" x2="318.90" y2="339.70" stroke="#1a1a1a" stroke-width="1.4" />
<line x1="317.20" y1="312.90" x2="318.90" y2="312.90" stroke="#1a1a1a" stroke-width="1.4" />
<line x1="317.20" y1="286.10" x2="318.90" y2="286.10" stroke="#1a1a1a" stroke-width="1.4" />
<line x1="96.40" y1="439.20" x2="96.40" y2="442.10" stroke="#1a1a1a" stroke-width="1.4" />
<text x="96.40" y="453.09" font-size="10.8" font-weight="bold" text-anchor="middle" fill="#111" font-family="Liberation Sans, sans-serif" textLength="6.0" lengthAdjust="spacingAndGlyphs" >0</text>
<line x1="140.60" y1="439.20" x2="140.60" y2="442.10" stroke="#1a1a1a" stroke-width="1.4" />
<text x="140.60" y="453.09" font-size="10.8" font-weight="bold" text-anchor="middle" fill="#111" font-family="Liberation Sans, sans-serif" textLength="12.0" lengthAdjust="spacingAndGlyphs" >20</text>
<line x1="184.80" y1="439.20" x2="184.80" y2="442.10" stroke="#1a1a1a" stroke-width="1.4" />
<text x="184.80" y="453.09" font-size="10.8" font-weight="bold" text-anchor="middle" fill="#111" font-family="Liberation Sans, sans-serif" textLength="12.0" lengthAdjust="spacingAndGlyphs" >40</text>
<line x1="229.00" y1="439.20" x2="229.00" y2="442.10" stroke="#1a1a1a" stroke-width="1.4" />
<text x="229.00" y="453.09" font-size="10.8" font-weight="bold" text-anchor="middle" fill="#111" font-family="Liberation Sans, sans-serif" textLength="12.0" lengthAdjust="spacingAndGlyphs" >60</text>
<line x1="273.20" y1="439.20" x2="273.20" y2="442.10" stroke="#1a1a1a" stroke-width="1.4" />
<text x="273.20" y="453.09" font-size="10.8" font-weight="bold" text-anchor="middle" fill="#111" font-family="Liberation Sans, sans-serif" textLength="12.0" lengthAdjust="spacingAndGlyphs" >80</text>
<line x1="317.40" y1="439.20" x2="317.40" y2="442.10" stroke="#1a1a1a" stroke-width="1.4" />
<text x="317.40" y="453.09" font-size="10.8" font-weight="bold" text-anchor="middle" fill="#111" font-family="Liberation Sans, sans-serif" textLength="18.0" lengthAdjust="spacingAndGlyphs" >100</text>
<line x1="118.50" y1="439.20" x2="118.50" y2="440.90" stroke="#1a1a1a" stroke-width="1.4" />
<line x1="162.70" y1="439.20" x2="162.70" y2="440.90" stroke="#1a1a1a" stroke-width="1.4" />
<line x1="206.90" y1="439.20" x2="206.90" y2="440.90" stroke="#1a1a1a" stroke-width="1.4" />
<line x1="251.10" y1="439.20" x2="251.10" y2="440.90" stroke="#1a1a1a" stroke-width="1.4" />
<line x1="295.30" y1="439.20" x2="295.30" y2="440.90" stroke="#1a1a1a" stroke-width="1.4" />
<text x="207.10" y="465.54" font-size="12.6" font-weight="bold" text-anchor="middle" fill="#111" font-family="Liberation Sans, sans-serif" textLength="82.2" lengthAdjust="spacingAndGlyphs" >Cycle Number</text>
<g transform="rotate(-90 36.5 428)"><text x="36.5" y="428" font-size="12.6" font-weight="bold" fill="#111" font-family="Liberation Sans, sans-serif" textLength="141" lengthAdjust="spacingAndGlyphs">Specific Energy (Wh kg</text><text x="178.3" y="422.6" font-size="7.6" font-weight="bold" fill="#111" font-family="Liberation Sans, sans-serif">-1</text><text x="184.8" y="428" font-size="12.6" font-weight="bold" fill="#111" font-family="Liberation Sans, sans-serif">)</text></g>
<text x="75.60" y="347.30" font-size="13.4" font-weight="bold" text-anchor="middle" fill="#111" font-family="Liberation Sans, sans-serif" textLength="89.0" lengthAdjust="spacingAndGlyphs" transform="rotate(-90 75.60 347.30)">Capacity (Ah)</text>
<text x="346.40" y="358.40" font-size="12.6" font-weight="bold" text-anchor="middle" fill="#111" font-family="Liberation Sans, sans-serif" textLength="156.0" lengthAdjust="spacingAndGlyphs" transform="rotate(-90 346.40 358.40)">Coulombic Efficiency (%)</text>
<text x="78.00" y="267.60" font-size="21" font-weight="bold" text-anchor="start" fill="#111" font-family="Liberation Sans, sans-serif" >c</text>
<text x="198.20" y="330.76" font-size="11" font-weight="bold" text-anchor="start" fill="#111" font-family="Liberation Sans, sans-serif" textLength="24.8" lengthAdjust="spacingAndGlyphs" >0.2 C</text>
<text x="102.00" y="432.27" font-size="10.2" font-weight="bold" text-anchor="start" fill="#111" font-family="Liberation Sans, sans-serif" textLength="95.0" lengthAdjust="spacingAndGlyphs" xml:space="preserve">1.1 Ah&#160; pouch cells</text>
<path d="M114.00,293.40 L126.90,293.40 L126.90,301.30" fill="none" stroke="#111" stroke-width="1.3"/>
<path d="M110.00,293.40 L116.00,291.10 L116.00,295.70 Z" fill="#111"/>
<path d="M114.00,355.60 L126.90,355.60 L126.90,347.00" fill="none" stroke="#111" stroke-width="1.3"/>
<path d="M110.00,355.60 L116.00,353.30 L116.00,357.90 Z" fill="#111"/>
<path d="M303.80,296.30 L289.70,296.30 L289.70,288.60" fill="none" stroke="#111" stroke-width="1.3"/>
<path d="M307.80,296.30 L301.80,294.00 L301.80,298.60 Z" fill="#111"/>
<text x="354.00" y="266.60" font-size="21" font-weight="bold" text-anchor="start" fill="#111" font-family="Liberation Sans, sans-serif" >d</text>
<rect x="369.50" y="262.70" width="104.30" height="175.40" fill="url(#bgD)" stroke="#4e8fc4" stroke-width="0.8" />
<g transform="rotate(-2.5 392 290)">
<rect x="376.40" y="267.80" width="31.60" height="44.50" fill="#e9e9ee" stroke="#cfd4dc" stroke-width="0.8" />
<rect x="380.40" y="273.00" width="21.60" height="29.20" fill="#dfe0e8" stroke="#c4c8d2" stroke-width="0.9" />
</g>
<path d="M386.2,313 L387.6,320 L390.6,337" stroke="#262c36" stroke-width="3.6" fill="none" stroke-linecap="round"/>
<path d="M399.4,313 L399.4,322 L401.2,338" stroke="#b04c3a" stroke-width="3.6" fill="none" stroke-linecap="round"/>
<path d="M399.2,313 L399.2,316" stroke="#e8e8e8" stroke-width="2" fill="none"/><path d="M386,313 L386.3,316" stroke="#e8e8e8" stroke-width="2" fill="none"/>
<path d="M390.6,337 C386,346 386,352 393,357 M401.2,338 C409,346 410,352 396,358" stroke="#1e3c6a" stroke-width="0.9" fill="none"/>
<path d="M394.6,360 L387.6,384" stroke="#16203c" stroke-width="6.4" fill="none"/>
<path d="M388.6,377 L385.6,389.5" stroke="#e4e4e8" stroke-width="5.4" fill="none"/>
<path d="M390.4,363.5 L388.4,371" stroke="#dddddd" stroke-width="1.2" stroke-dasharray="1 1.3" fill="none"/>
<rect x="430.2" y="292.6" width="34.6" height="74.4" rx="3.6" ry="3.6" fill="#0e1118"/>
<circle cx="447.9" cy="324.1" r="9.2" fill="#5590e2"/>
<path d="M449.2,318.6 L445.6,324.8 L447.9,324.8 L446.8,329.4 L450.6,323 L448.3,323 Z" fill="#ffffff"/>
<circle cx="447.0" cy="343.6" r="2.0" fill="#5a8fd8"/><circle cx="450.2" cy="346.6" r="2.0" fill="#5a8fd8"/>
<rect x="446.6" y="360" width="3" height="1.6" fill="#7f98c8"/>
<path d="M449.6,367 L449.6,374" stroke="#f0f0f0" stroke-width="3.4" fill="none"/>
<path d="M449.8,373 C452,390 455,398 451,410 C446,422 420,416 412,410 C402,404 394,410 398,418 C402,428 440,424 452,420 C470,414 468,404 456,406 C440,409 424,424 404,430 C390,432 384,424 382,412 C381,402 384,396 386,390" stroke="#dfe4ec" stroke-width="1.4" fill="none"/>
<path d="M410,420 C430,404 470,410 452,418 C430,428 405,426 398,416" stroke="#cfd4de" stroke-width="1.1" fill="none"/>
<rect x="549.10" y="362.90" width="21.70" height="76.20" fill="#a6d8f8" stroke="#8fbfe0" stroke-width="0.9" />
<rect x="579.60" y="321.10" width="21.70" height="118.00" fill="#fdf0d3" stroke="#d5c7b3" stroke-width="0.9" />
<rect x="625.80" y="373.20" width="21.90" height="65.90" fill="#bfe0f8" stroke="#a4c6e2" stroke-width="0.9" />
<rect x="656.30" y="309.10" width="21.90" height="130.00" fill="#fdf3de" stroke="#d8cdbd" stroke-width="0.9" />
<rect x="529.20" y="261.80" width="169.70" height="177.30" fill="none" stroke="#1a1a1a" stroke-width="1.5" />
<line x1="525.80" y1="439.40" x2="529.20" y2="439.40" stroke="#1a1a1a" stroke-width="1.4" />
<text x="523.60" y="443.22" font-size="10.6" font-weight="bold" text-anchor="end" fill="#111" font-family="Liberation Sans, sans-serif" textLength="5.8" lengthAdjust="spacingAndGlyphs" >0</text>
<line x1="525.80" y1="399.90" x2="529.20" y2="399.90" stroke="#1a1a1a" stroke-width="1.4" />
<text x="523.60" y="403.72" font-size="10.6" font-weight="bold" text-anchor="end" fill="#111" font-family="Liberation Sans, sans-serif" textLength="17.3" lengthAdjust="spacingAndGlyphs" >100</text>
<line x1="525.80" y1="360.40" x2="529.20" y2="360.40" stroke="#1a1a1a" stroke-width="1.4" />
<text x="523.60" y="364.22" font-size="10.6" font-weight="bold" text-anchor="end" fill="#111" font-family="Liberation Sans, sans-serif" textLength="17.3" lengthAdjust="spacingAndGlyphs" >200</text>
<line x1="525.80" y1="320.90" x2="529.20" y2="320.90" stroke="#1a1a1a" stroke-width="1.4" />
<text x="523.60" y="324.72" font-size="10.6" font-weight="bold" text-anchor="end" fill="#111" font-family="Liberation Sans, sans-serif" textLength="17.3" lengthAdjust="spacingAndGlyphs" >300</text>
<line x1="525.80" y1="281.40" x2="529.20" y2="281.40" stroke="#1a1a1a" stroke-width="1.4" />
<text x="523.60" y="285.22" font-size="10.6" font-weight="bold" text-anchor="end" fill="#111" font-family="Liberation Sans, sans-serif" textLength="17.3" lengthAdjust="spacingAndGlyphs" >400</text>
<line x1="527.40" y1="419.65" x2="529.20" y2="419.65" stroke="#1a1a1a" stroke-width="1.4" />
<line x1="527.40" y1="380.15" x2="529.20" y2="380.15" stroke="#1a1a1a" stroke-width="1.4" />
<line x1="527.40" y1="340.65" x2="529.20" y2="340.65" stroke="#1a1a1a" stroke-width="1.4" />
<line x1="527.40" y1="301.15" x2="529.20" y2="301.15" stroke="#1a1a1a" stroke-width="1.4" />
<line x1="698.90" y1="438.80" x2="702.30" y2="438.80" stroke="#1a1a1a" stroke-width="1.4" />
<text x="704.60" y="442.62" font-size="10.6" font-weight="bold" text-anchor="start" fill="#111" font-family="Liberation Sans, sans-serif" textLength="5.8" lengthAdjust="spacingAndGlyphs" >0</text>
<line x1="698.90" y1="397.07" x2="702.30" y2="397.07" stroke="#1a1a1a" stroke-width="1.4" />
<text x="704.60" y="400.89" font-size="10.6" font-weight="bold" text-anchor="start" fill="#111" font-family="Liberation Sans, sans-serif" textLength="17.3" lengthAdjust="spacingAndGlyphs" >200</text>
<line x1="698.90" y1="355.34" x2="702.30" y2="355.34" stroke="#1a1a1a" stroke-width="1.4" />
<text x="704.60" y="359.16" font-size="10.6" font-weight="bold" text-anchor="start" fill="#111" font-family="Liberation Sans, sans-serif" textLength="17.3" lengthAdjust="spacingAndGlyphs" >400</text>
<line x1="698.90" y1="313.61" x2="702.30" y2="313.61" stroke="#1a1a1a" stroke-width="1.4" />
<text x="704.60" y="317.43" font-size="10.6" font-weight="bold" text-anchor="start" fill="#111" font-family="Liberation Sans, sans-serif" textLength="17.3" lengthAdjust="spacingAndGlyphs" >600</text>
<line x1="698.90" y1="271.88" x2="702.30" y2="271.88" stroke="#1a1a1a" stroke-width="1.4" />
<text x="704.60" y="275.70" font-size="10.6" font-weight="bold" text-anchor="start" fill="#111" font-family="Liberation Sans, sans-serif" textLength="17.3" lengthAdjust="spacingAndGlyphs" >800</text>
<line x1="698.90" y1="417.94" x2="700.70" y2="417.94" stroke="#1a1a1a" stroke-width="1.4" />
<line x1="698.90" y1="376.21" x2="700.70" y2="376.21" stroke="#1a1a1a" stroke-width="1.4" />
<line x1="698.90" y1="334.48" x2="700.70" y2="334.48" stroke="#1a1a1a" stroke-width="1.4" />
<line x1="698.90" y1="292.75" x2="700.70" y2="292.75" stroke="#1a1a1a" stroke-width="1.4" />
<rect x="536.00" y="266.90" width="10.50" height="10.40" fill="#fdf0d3" stroke="#cfc1ae" stroke-width="0.9" />
<rect x="536.00" y="284.10" width="10.50" height="10.50" fill="#aadaf8" stroke="#93bedc" stroke-width="0.9" />
<text x="552.4" y="275.87" font-size="10.2" font-weight="bold" fill="#222" font-family="Liberation Sans, sans-serif">LFP@Li<tspan font-size="6.6" dy="2.2">2</tspan><tspan dy="-2.2">S|GPE|Cu</tspan></text>
<text x="552.40" y="293.27" font-size="10.2" font-weight="bold" text-anchor="start" fill="#222" font-family="Liberation Sans, sans-serif" >LFP|GPE|G</text>
<path d="M559.80,311.20 L574.80,311.20 L574.80,318.80" fill="none" stroke="#111" stroke-width="1.3"/>
<path d="M555.80,311.20 L561.80,308.90 L561.80,313.50 Z" fill="#111"/>
<path d="M665.20,297.20 L651.80,297.20 L651.80,304.90" fill="none" stroke="#111" stroke-width="1.3"/>
<path d="M669.20,297.20 L663.20,294.90 L663.20,299.50 Z" fill="#111"/>
<text x="613.70" y="454.84" font-size="12.6" font-weight="bold" text-anchor="middle" fill="#111" font-family="Liberation Sans, sans-serif" textLength="174.6" lengthAdjust="spacingAndGlyphs" >Quasi-solid-state pouch cells</text>
<g transform="rotate(-90 500.4 440.5)"><text x="500.4" y="440.5" font-size="12.6" font-weight="bold" fill="#111" font-family="Liberation Sans, sans-serif" textLength="168" lengthAdjust="spacingAndGlyphs">Gravimetric Energy (Wh kg</text><text x="669.0" y="435.2" font-size="7.6" font-weight="bold" fill="#111" font-family="Liberation Sans, sans-serif">-1</text><text x="675.6" y="440.5" font-size="12.6" font-weight="bold" fill="#111" font-family="Liberation Sans, sans-serif">)</text></g>
<g transform="rotate(-90 734.9 443.7)"><text x="734.9" y="443.7" font-size="12.6" font-weight="bold" fill="#111" font-family="Liberation Sans, sans-serif" textLength="158.6" lengthAdjust="spacingAndGlyphs">Volumetric Energy (Wh L</text><text x="894.2" y="438.4" font-size="7.6" font-weight="bold" fill="#111" font-family="Liberation Sans, sans-serif">-1</text><text x="900.6" y="443.7" font-size="12.6" font-weight="bold" fill="#111" font-family="Liberation Sans, sans-serif">)</text></g>
<text x="512.20" y="262.60" font-size="21" font-weight="bold" text-anchor="start" fill="#111" font-family="Liberation Sans, sans-serif" >e</text>
<g clip-path="url(#clipF)">
<line x1="770.69" y1="400.63" x2="960.62" y2="199.65" stroke="#ababab" stroke-width="1.3" stroke-dasharray="8 5.2"/>
<line x1="770.69" y1="454.66" x2="960.62" y2="253.68" stroke="#ababab" stroke-width="1.3" stroke-dasharray="8 5.2"/>
<line x1="770.69" y1="508.69" x2="960.62" y2="307.71" stroke="#ababab" stroke-width="1.3" stroke-dasharray="8 5.2"/>
</g>
<g transform="rotate(-46 797.6 363.0)"><rect x="783.6" y="358.0" width="28" height="10" fill="#fff"/><text x="797.6" y="366.4" font-size="9.6" font-weight="bold" text-anchor="middle" fill="#111" font-family="Liberation Sans, sans-serif">0.2 C</text></g>
<g transform="rotate(-46 823.0 388.4)"><rect x="809.0" y="383.4" width="28" height="10" fill="#fff"/><text x="823.0" y="391.79999999999995" font-size="9.6" font-weight="bold" text-anchor="middle" fill="#111" font-family="Liberation Sans, sans-serif">1.0 C</text></g>
<g transform="rotate(-46 849.6 415.0)"><rect x="835.6" y="410.0" width="28" height="10" fill="#fff"/><text x="849.6" y="418.4" font-size="9.6" font-weight="bold" text-anchor="middle" fill="#111" font-family="Liberation Sans, sans-serif">5.0 C</text></g>
<polyline points="845.30,324.50 874.40,325.80 896.30,327.50 917.90,330.90 946.10,338.80" fill="none" stroke="#e8584a" stroke-width="1.4" stroke-linejoin="round" stroke-linecap="round"/>
<circle cx="845.3" cy="324.5" r="2.6" fill="#fff" stroke="#dc4a3e" stroke-width="1.1"/>
<circle cx="874.4" cy="325.8" r="2.6" fill="#fff" stroke="#dc4a3e" stroke-width="1.1"/>
<circle cx="896.3" cy="327.5" r="2.6" fill="#fff" stroke="#dc4a3e" stroke-width="1.1"/>
<circle cx="917.9" cy="330.9" r="2.6" fill="#fff" stroke="#dc4a3e" stroke-width="1.1"/>
<circle cx="946.1" cy="338.8" r="2.6" fill="#fff" stroke="#dc4a3e" stroke-width="1.1"/>
<rect x="784.60" y="261.80" width="169.00" height="177.50" fill="none" stroke="#1a1a1a" stroke-width="1.5" />
<line x1="781.00" y1="439.20" x2="784.60" y2="439.20" stroke="#1a1a1a" stroke-width="1.4" />
<text x="782.4" y="443.50" font-size="11.4" font-weight="bold" text-anchor="end" fill="#111" font-family="Liberation Sans, sans-serif">10<tspan font-size="7.4" dy="-4.6">1</tspan></text>
<line x1="785.30" y1="439.30" x2="785.30" y2="442.90" stroke="#1a1a1a" stroke-width="1.4" />
<text x="786.30" y="456.83" font-size="11.2" font-weight="bold" text-anchor="middle" fill="#111" font-family="Liberation Sans, sans-serif">10<tspan font-size="7.4" dy="-4.6">1</tspan></text>
<line x1="781.00" y1="361.90" x2="784.60" y2="361.90" stroke="#1a1a1a" stroke-width="1.4" />
<text x="782.4" y="366.20" font-size="11.4" font-weight="bold" text-anchor="end" fill="#111" font-family="Liberation Sans, sans-serif">10<tspan font-size="7.4" dy="-4.6">2</tspan></text>
<line x1="858.35" y1="439.30" x2="858.35" y2="442.90" stroke="#1a1a1a" stroke-width="1.4" />
<text x="859.35" y="456.83" font-size="11.2" font-weight="bold" text-anchor="middle" fill="#111" font-family="Liberation Sans, sans-serif">10<tspan font-size="7.4" dy="-4.6">2</tspan></text>
<line x1="781.00" y1="284.60" x2="784.60" y2="284.60" stroke="#1a1a1a" stroke-width="1.4" />
<text x="782.4" y="288.90" font-size="11.4" font-weight="bold" text-anchor="end" fill="#111" font-family="Liberation Sans, sans-serif">10<tspan font-size="7.4" dy="-4.6">3</tspan></text>
<line x1="931.40" y1="439.30" x2="931.40" y2="442.90" stroke="#1a1a1a" stroke-width="1.4" />
<text x="932.40" y="456.83" font-size="11.2" font-weight="bold" text-anchor="middle" fill="#111" font-family="Liberation Sans, sans-serif">10<tspan font-size="7.4" dy="-4.6">3</tspan></text>
<line x1="782.60" y1="415.93" x2="784.60" y2="415.93" stroke="#1a1a1a" stroke-width="1.0" />
<line x1="807.29" y1="439.30" x2="807.29" y2="441.30" stroke="#1a1a1a" stroke-width="1.0" />
<line x1="782.60" y1="402.32" x2="784.60" y2="402.32" stroke="#1a1a1a" stroke-width="1.0" />
<line x1="820.15" y1="439.30" x2="820.15" y2="441.30" stroke="#1a1a1a" stroke-width="1.0" />
<line x1="782.60" y1="392.66" x2="784.60" y2="392.66" stroke="#1a1a1a" stroke-width="1.0" />
<line x1="829.28" y1="439.30" x2="829.28" y2="441.30" stroke="#1a1a1a" stroke-width="1.0" />
<line x1="782.60" y1="385.17" x2="784.60" y2="385.17" stroke="#1a1a1a" stroke-width="1.0" />
<line x1="836.36" y1="439.30" x2="836.36" y2="441.30" stroke="#1a1a1a" stroke-width="1.0" />
<line x1="782.60" y1="379.05" x2="784.60" y2="379.05" stroke="#1a1a1a" stroke-width="1.0" />
<line x1="842.14" y1="439.30" x2="842.14" y2="441.30" stroke="#1a1a1a" stroke-width="1.0" />
<line x1="782.60" y1="373.87" x2="784.60" y2="373.87" stroke="#1a1a1a" stroke-width="1.0" />
<line x1="847.03" y1="439.30" x2="847.03" y2="441.30" stroke="#1a1a1a" stroke-width="1.0" />
<line x1="782.60" y1="369.39" x2="784.60" y2="369.39" stroke="#1a1a1a" stroke-width="1.0" />
<line x1="851.27" y1="439.30" x2="851.27" y2="441.30" stroke="#1a1a1a" stroke-width="1.0" />
<line x1="782.60" y1="365.44" x2="784.60" y2="365.44" stroke="#1a1a1a" stroke-width="1.0" />
<line x1="855.01" y1="439.30" x2="855.01" y2="441.30" stroke="#1a1a1a" stroke-width="1.0" />
<line x1="782.60" y1="338.63" x2="784.60" y2="338.63" stroke="#1a1a1a" stroke-width="1.0" />
<line x1="880.34" y1="439.30" x2="880.34" y2="441.30" stroke="#1a1a1a" stroke-width="1.0" />
<line x1="782.60" y1="325.02" x2="784.60" y2="325.02" stroke="#1a1a1a" stroke-width="1.0" />
<line x1="893.20" y1="439.30" x2="893.20" y2="441.30" stroke="#1a1a1a" stroke-width="1.0" />
<line x1="782.60" y1="315.36" x2="784.60" y2="315.36" stroke="#1a1a1a" stroke-width="1.0" />
<line x1="902.33" y1="439.30" x2="902.33" y2="441.30" stroke="#1a1a1a" stroke-width="1.0" />
<line x1="782.60" y1="307.87" x2="784.60" y2="307.87" stroke="#1a1a1a" stroke-width="1.0" />
<line x1="909.41" y1="439.30" x2="909.41" y2="441.30" stroke="#1a1a1a" stroke-width="1.0" />
<line x1="782.60" y1="301.75" x2="784.60" y2="301.75" stroke="#1a1a1a" stroke-width="1.0" />
<line x1="915.19" y1="439.30" x2="915.19" y2="441.30" stroke="#1a1a1a" stroke-width="1.0" />
<line x1="782.60" y1="296.57" x2="784.60" y2="296.57" stroke="#1a1a1a" stroke-width="1.0" />
<line x1="920.08" y1="439.30" x2="920.08" y2="441.30" stroke="#1a1a1a" stroke-width="1.0" />
<line x1="782.60" y1="292.09" x2="784.60" y2="292.09" stroke="#1a1a1a" stroke-width="1.0" />
<line x1="924.32" y1="439.30" x2="924.32" y2="441.30" stroke="#1a1a1a" stroke-width="1.0" />
<line x1="782.60" y1="288.14" x2="784.60" y2="288.14" stroke="#1a1a1a" stroke-width="1.0" />
<line x1="928.06" y1="439.30" x2="928.06" y2="441.30" stroke="#1a1a1a" stroke-width="1.0" />
<line x1="953.39" y1="439.30" x2="953.39" y2="441.30" stroke="#1a1a1a" stroke-width="1.0" />
<text x="796.5" y="277.51" font-size="10.3" font-weight="bold" fill="#222" font-family="Liberation Sans, sans-serif">LFP@Li<tspan font-size="6.6" dy="2.2">2</tspan><tspan dy="-2.2">S|GPE|Cu pouch cell</tspan></text>
<g transform="rotate(-90 759.4 433.6)"><text x="759.4" y="433.6" font-size="12.6" font-weight="bold" fill="#111" font-family="Liberation Sans, sans-serif" textLength="146" lengthAdjust="spacingAndGlyphs">Specific Energy (Wh kg</text><text x="906.0" y="428.0" font-size="7.6" font-weight="bold" fill="#111" font-family="Liberation Sans, sans-serif">-1</text><text x="905.8" y="436.6" font-size="7.6" font-weight="bold" fill="#111" font-family="Liberation Sans, sans-serif">cell</text><text x="921.0" y="433.6" font-size="12.6" font-weight="bold" fill="#111" font-family="Liberation Sans, sans-serif">)</text></g>
<text x="793.2" y="470.54" font-size="12.6" font-weight="bold" fill="#111" font-family="Liberation Sans, sans-serif" textLength="134" lengthAdjust="spacingAndGlyphs">Specific Power (kW kg</text><text x="928.6" y="466.2" font-size="7.6" font-weight="bold" fill="#111" font-family="Liberation Sans, sans-serif">-1</text><text x="928.2" y="474.6" font-size="7.6" font-weight="bold" fill="#111" font-family="Liberation Sans, sans-serif" textLength="13.4" lengthAdjust="spacingAndGlyphs">cell</text><text x="941.8" y="470.54" font-size="12.6" font-weight="bold" fill="#111" font-family="Liberation Sans, sans-serif">)</text>
<text x="773.30" y="263.00" font-size="21" font-weight="bold" text-anchor="start" fill="#111" font-family="Liberation Sans, sans-serif" >f</text>
<polyline points="95.90,659.30 96.27,659.29 96.79,659.42 97.39,659.50 98.05,659.35 98.70,658.78 99.30,657.60 99.85,655.99 100.40,654.12 100.94,651.83 101.48,648.96 102.03,645.34 102.60,640.80 103.19,634.88 103.81,627.60 104.44,619.58 105.06,611.41 105.65,603.68 106.20,597.00 106.70,591.38 107.17,586.36 107.62,581.78 108.05,577.51 108.47,573.39 108.90,569.30 109.33,565.19 109.75,561.16 110.16,557.29 110.57,553.66 110.99,550.34 111.40,547.40 111.80,544.89 112.17,542.75 112.54,540.92 112.94,539.33 113.38,537.91 113.90,536.60 114.48,535.43 115.11,534.47 115.79,533.68 116.51,533.03 117.28,532.48 118.10,532.00 118.97,531.61 119.91,531.35 120.89,531.19 121.90,531.11 122.94,531.09 124.00,531.10 125.02,531.13 126.02,531.20 127.04,531.33 128.14,531.53 129.37,531.81 130.80,532.20 132.45,532.68 134.27,533.24 136.23,533.89 138.29,534.63 140.39,535.47 142.50,536.40 144.61,537.44 146.74,538.59 148.93,539.83 151.19,541.16 153.54,542.55 156.00,544.00 158.61,545.54 161.35,547.18 164.19,548.89 167.07,550.64 169.96,552.39 172.80,554.10 175.61,555.78 178.43,557.47 181.25,559.15 184.07,560.83 186.89,562.52 189.70,564.20 192.61,565.95 195.65,567.77 198.69,569.59 201.59,571.34 204.24,572.93 206.50,574.30 208.23,575.34 209.49,576.11 210.49,576.72 211.44,577.31 212.55,577.99 214.00,578.90 215.85,580.07 217.94,581.42 220.19,582.87 222.49,584.33 224.76,585.74 226.90,587.00 228.92,588.11 230.89,589.13 232.83,590.09 234.74,591.01 236.66,591.94 238.60,592.90 240.60,593.91 242.67,594.94 244.74,595.97 246.75,596.98 248.62,597.93 250.30,598.80 251.68,599.54 252.80,600.17 253.79,600.74 254.79,601.32 255.91,601.95 257.30,602.70 258.99,603.59 260.88,604.59 262.91,605.65 265.00,606.72 267.08,607.75 269.10,608.70 271.08,609.59 273.09,610.46 275.10,611.30 277.07,612.08 278.98,612.79 280.80,613.40 282.45,613.87 283.93,614.21 285.36,614.48 286.81,614.72 288.39,615.01 290.20,615.40 292.20,615.88 294.30,616.41 296.52,616.98 298.90,617.59 301.45,618.23 304.20,618.90 307.25,619.62 310.60,620.38 314.12,621.18 317.69,622.00 321.16,622.81 324.40,623.60 327.43,624.34 330.37,625.03 333.22,625.72 335.97,626.45 338.63,627.26 341.20,628.20 343.66,629.31 346.01,630.58 348.27,631.93 350.46,633.29 352.59,634.60 354.70,635.80 356.89,636.94 359.17,638.08 361.39,639.17 363.43,640.16 365.15,640.99 366.40,641.60" fill="none" stroke="#6a6a6a" stroke-width="1.7" stroke-linejoin="round" stroke-linecap="round"/>
<polyline points="95.90,659.30 97.13,658.67 98.88,657.80 100.92,656.77 103.07,655.64 105.09,654.50 106.80,653.40 108.13,652.36 109.25,651.32 110.25,650.26 111.24,649.16 112.32,647.98 113.60,646.70 115.03,645.33 116.54,643.88 118.13,642.36 119.84,640.77 121.69,639.12 123.70,637.40 126.04,635.53 128.73,633.50 131.56,631.39 134.32,629.33 136.80,627.39 138.80,625.70 140.23,624.32 141.24,623.19 141.98,622.20 142.58,621.23 143.17,620.17 143.90,618.90 144.74,617.37 145.57,615.65 146.40,613.84 147.23,612.04 148.06,610.32 148.90,608.80 149.73,607.45 150.53,606.19 151.34,605.03 152.18,603.96 153.06,602.99 154.00,602.10 155.00,601.32 156.05,600.64 157.14,600.06 158.28,599.56 159.47,599.11 160.70,598.70 161.97,598.34 163.28,598.03 164.64,597.79 166.05,597.60 167.54,597.47 169.10,597.40 170.76,597.37 172.52,597.37 174.34,597.42 176.21,597.57 178.11,597.82 180.00,598.20 181.90,598.74 183.84,599.44 185.80,600.24 187.77,601.11 189.74,602.01 191.70,602.90 193.65,603.81 195.60,604.77 197.54,605.76 199.49,606.76 201.44,607.75 203.40,608.70 205.36,609.62 207.33,610.53 209.30,611.42 211.27,612.30 213.24,613.16 215.20,614.00 217.16,614.82 219.11,615.62 221.06,616.41 223.00,617.18 224.95,617.94 226.90,618.70 228.85,619.46 230.80,620.21 232.75,620.96 234.70,621.69 236.65,622.40 238.60,623.10 240.55,623.77 242.50,624.43 244.45,625.07 246.40,625.69 248.35,626.30 250.30,626.90 252.25,627.48 254.20,628.04 256.14,628.59 258.09,629.13 260.04,629.67 262.00,630.20 263.96,630.73 265.93,631.26 267.90,631.79 269.87,632.30 271.84,632.81 273.80,633.30 275.73,633.77 277.62,634.23 279.51,634.67 281.43,635.11 283.42,635.55 285.50,636.00 287.61,636.45 289.72,636.90 291.89,637.36 294.19,637.82 296.71,638.30 299.50,638.80 302.70,639.35 306.29,639.96 310.07,640.57 313.90,641.18 317.60,641.73 321.00,642.20 324.07,642.57 326.94,642.87 329.69,643.11 332.37,643.33 335.05,643.55 337.80,643.80 340.67,644.07 343.62,644.36 346.57,644.64 349.45,644.91 352.18,645.17 354.70,645.40 357.09,645.61 359.42,645.81 361.61,646.00 363.56,646.16 365.19,646.30 366.40,646.40" fill="none" stroke="#1f78c0" stroke-width="1.8" stroke-linejoin="round" stroke-linecap="round"/>
<polyline points="95.90,659.30 97.13,658.76 98.88,658.01 100.92,657.12 103.07,656.16 105.09,655.20 106.80,654.30 108.17,653.44 109.37,652.56 110.46,651.67 111.49,650.80 112.52,649.97 113.60,649.20 114.66,648.47 115.65,647.76 116.64,647.09 117.69,646.48 118.89,645.94 120.30,645.50 121.91,645.16 123.67,644.91 125.57,644.74 127.61,644.62 129.78,644.55 132.10,644.50 134.51,644.49 137.01,644.53 139.66,644.61 142.49,644.73 145.55,644.86 148.90,645.00 152.53,645.15 156.40,645.33 160.50,645.52 164.84,645.74 169.40,645.96 174.20,646.20 179.32,646.46 184.78,646.76 190.47,647.06 196.29,647.37 202.10,647.65 207.80,647.90 213.59,648.12 219.59,648.31 225.59,648.49 231.39,648.64 236.76,648.78 241.50,648.90 245.17,648.99 247.84,649.05 250.09,649.09 252.49,649.13 255.61,649.16 260.00,649.20 266.00,649.25 273.22,649.29 281.16,649.32 289.30,649.37 297.15,649.43 304.20,649.50 310.47,649.59 316.37,649.70 321.97,649.83 327.36,649.95 332.61,650.08 337.80,650.20 343.19,650.32 348.76,650.46 354.20,650.59 359.17,650.72 363.35,650.82 366.40,650.90" fill="none" stroke="#e8584c" stroke-width="1.7" stroke-linejoin="round" stroke-linecap="round"/>
<rect x="95.80" y="494.90" width="270.80" height="176.30" fill="none" stroke="#1a1a1a" stroke-width="1.5" />
<line x1="92.80" y1="660.20" x2="95.80" y2="660.20" stroke="#1a1a1a" stroke-width="1.4" />
<text x="91.20" y="664.05" font-size="10.7" font-weight="bold" text-anchor="end" fill="#111" font-family="Liberation Sans, sans-serif" textLength="11.0" lengthAdjust="spacingAndGlyphs" >20</text>
<line x1="92.80" y1="616.10" x2="95.80" y2="616.10" stroke="#1a1a1a" stroke-width="1.4" />
<text x="91.20" y="619.95" font-size="10.7" font-weight="bold" text-anchor="end" fill="#111" font-family="Liberation Sans, sans-serif" textLength="11.0" lengthAdjust="spacingAndGlyphs" >40</text>
<line x1="92.80" y1="572.00" x2="95.80" y2="572.00" stroke="#1a1a1a" stroke-width="1.4" />
<text x="91.20" y="575.85" font-size="10.7" font-weight="bold" text-anchor="end" fill="#111" font-family="Liberation Sans, sans-serif" textLength="11.0" lengthAdjust="spacingAndGlyphs" >60</text>
<line x1="92.80" y1="527.90" x2="95.80" y2="527.90" stroke="#1a1a1a" stroke-width="1.4" />
<text x="91.20" y="531.75" font-size="10.7" font-weight="bold" text-anchor="end" fill="#111" font-family="Liberation Sans, sans-serif" textLength="11.0" lengthAdjust="spacingAndGlyphs" >80</text>
<line x1="94.10" y1="638.15" x2="95.80" y2="638.15" stroke="#1a1a1a" stroke-width="1.4" />
<line x1="94.10" y1="594.05" x2="95.80" y2="594.05" stroke="#1a1a1a" stroke-width="1.4" />
<line x1="94.10" y1="549.95" x2="95.80" y2="549.95" stroke="#1a1a1a" stroke-width="1.4" />
<line x1="94.10" y1="505.85" x2="95.80" y2="505.85" stroke="#1a1a1a" stroke-width="1.4" />
<line x1="95.40" y1="671.20" x2="95.40" y2="674.20" stroke="#1a1a1a" stroke-width="1.4" />
<text x="95.40" y="685.85" font-size="10.7" font-weight="bold" text-anchor="middle" fill="#111" font-family="Liberation Sans, sans-serif" textLength="5.3" lengthAdjust="spacingAndGlyphs" >0</text>
<line x1="149.60" y1="671.20" x2="149.60" y2="674.20" stroke="#1a1a1a" stroke-width="1.4" />
<text x="149.60" y="685.85" font-size="10.7" font-weight="bold" text-anchor="middle" fill="#111" font-family="Liberation Sans, sans-serif" textLength="15.9" lengthAdjust="spacingAndGlyphs" >300</text>
<line x1="203.80" y1="671.20" x2="203.80" y2="674.20" stroke="#1a1a1a" stroke-width="1.4" />
<text x="203.80" y="685.85" font-size="10.7" font-weight="bold" text-anchor="middle" fill="#111" font-family="Liberation Sans, sans-serif" textLength="15.9" lengthAdjust="spacingAndGlyphs" >600</text>
<line x1="258.00" y1="671.20" x2="258.00" y2="674.20" stroke="#1a1a1a" stroke-width="1.4" />
<text x="258.00" y="685.85" font-size="10.7" font-weight="bold" text-anchor="middle" fill="#111" font-family="Liberation Sans, sans-serif" textLength="15.9" lengthAdjust="spacingAndGlyphs" >900</text>
<line x1="312.20" y1="671.20" x2="312.20" y2="674.20" stroke="#1a1a1a" stroke-width="1.4" />
<text x="312.20" y="685.85" font-size="10.7" font-weight="bold" text-anchor="middle" fill="#111" font-family="Liberation Sans, sans-serif" textLength="21.2" lengthAdjust="spacingAndGlyphs" >1200</text>
<line x1="366.40" y1="671.20" x2="366.40" y2="674.20" stroke="#1a1a1a" stroke-width="1.4" />
<text x="366.40" y="685.85" font-size="10.7" font-weight="bold" text-anchor="middle" fill="#111" font-family="Liberation Sans, sans-serif" textLength="21.2" lengthAdjust="spacingAndGlyphs" >1500</text>
<line x1="122.50" y1="671.20" x2="122.50" y2="672.90" stroke="#1a1a1a" stroke-width="1.4" />
<line x1="176.70" y1="671.20" x2="176.70" y2="672.90" stroke="#1a1a1a" stroke-width="1.4" />
<line x1="230.90" y1="671.20" x2="230.90" y2="672.90" stroke="#1a1a1a" stroke-width="1.4" />
<line x1="285.10" y1="671.20" x2="285.10" y2="672.90" stroke="#1a1a1a" stroke-width="1.4" />
<line x1="339.30" y1="671.20" x2="339.30" y2="672.90" stroke="#1a1a1a" stroke-width="1.4" />
<text x="235.20" y="699.84" font-size="12.6" font-weight="bold" text-anchor="middle" fill="#111" font-family="Liberation Sans, sans-serif" textLength="41.7" lengthAdjust="spacingAndGlyphs" >Time (s)</text>
<text x="75.90" y="582.40" font-size="12.6" font-weight="bold" text-anchor="middle" fill="#111" font-family="Liberation Sans, sans-serif" textLength="102.0" lengthAdjust="spacingAndGlyphs" transform="rotate(-90 75.90 582.40)">Temperature (&#176;C)</text>
<text x="79.40" y="493.80" font-size="22.5" font-weight="bold" text-anchor="start" fill="#111" font-family="Liberation Sans, sans-serif" >g</text>
<text x="269.00" y="512.54" font-size="10.4" font-weight="bold" text-anchor="start" fill="#222" font-family="Liberation Sans, sans-serif" textLength="78.6" lengthAdjust="spacingAndGlyphs" >1.1 Ah pouch cell</text>
<line x1="268.30" y1="527.10" x2="278.40" y2="527.10" stroke="#6e6e6e" stroke-width="1.6" />
<text x="283.70" y="530.77" font-size="10.2" font-weight="bold" text-anchor="start" fill="#222" font-family="Liberation Sans, sans-serif" textLength="46.8" lengthAdjust="spacingAndGlyphs" >LFP|LE|Cu</text>
<line x1="268.30" y1="544.50" x2="278.40" y2="544.50" stroke="#1f78c0" stroke-width="1.6" />
<text x="283.70" y="548.17" font-size="10.2" font-weight="bold" text-anchor="start" fill="#222" font-family="Liberation Sans, sans-serif" textLength="52.0" lengthAdjust="spacingAndGlyphs" >LFP|GPE|Cu</text>
<line x1="268.30" y1="562.30" x2="278.40" y2="562.30" stroke="#e8584c" stroke-width="1.6" />
<text x="283.7" y="565.97" font-size="10.2" font-weight="bold" fill="#222" font-family="Liberation Sans, sans-serif" textLength="79.3" lengthAdjust="spacingAndGlyphs">LFP@Li<tspan font-size="6.6" dy="2.2">2</tspan><tspan dy="-2.2">S|GPE|Cu</tspan></text>
<rect x="409.60" y="533.60" width="11.70" height="21.90" fill="#d0d9f3" stroke="#10121e" stroke-width="1.4" />
<path d="M421.3,555.5 L428.2,566.2" stroke="#10121e" stroke-width="1.3" fill="none"/><path d="M430.2,569.4 L425.6,566.0 L428.9,563.8 Z" fill="#10121e"/>
<polyline points="410.00,555.50 410.60,548.00 411.60,544.60 413.00,544.00 414.60,543.20 415.20,546.60 417.10,546.50 430.00,546.60 454.20,547.10 487.80,547.80 504.70,549.10 516.50,552.10 522.00,555.00 524.90,557.50 527.40,556.80 530.60,558.60 534.10,560.90 540.00,566.80 541.40,570.00 548.20,585.50 554.90,604.30 561.60,629.60 566.00,646.00 570.00,658.40" fill="none" stroke="#e8584c" stroke-width="1.5" stroke-linejoin="round" stroke-linecap="round"/>
<polyline points="570.00,658.40 570.30,637.30 571.10,603.70 572.00,570.00 572.40,545.00 573.40,538.00 576.20,534.80 585.00,534.40 607.30,533.90 641.00,531.90 657.80,529.20 666.00,525.60 674.70,520.50 686.50,512.00 694.60,506.60" fill="none" stroke="#e8584c" stroke-width="1.5" stroke-linejoin="round" stroke-linecap="round"/>
<rect x="426.90" y="581.40" width="85.60" height="33.70" fill="url(#steelT)" stroke="none" stroke-width="1" />
<rect x="426.90" y="615.10" width="85.60" height="43.60" fill="url(#steelB)" stroke="none" stroke-width="1" />
<line x1="426.90" y1="615.10" x2="512.50" y2="615.10" stroke="#5e5e5c" stroke-width="0.9" />
<line x1="462.30" y1="581.40" x2="462.30" y2="615.00" stroke="#6c6c6a" stroke-width="0.8" />
<rect x="463.20" y="581.60" width="14.00" height="33.00" fill="#a2a2a0" stroke="none" stroke-width="1" />
<rect x="466.20" y="584.20" width="9.20" height="2.20" fill="#2a2a2a" stroke="none" stroke-width="1" />
<rect x="462.60" y="596.00" width="9.60" height="2.60" fill="#2c2c2c" stroke="none" stroke-width="1" />
<path d="M476,586.2 L484,587.6" stroke="#222" stroke-width="1" fill="none"/><path d="M488.6,581.6 C484.6,590 485.6,604 492,605.6 C498,606 499,592 491.4,583" stroke="#1c1c1c" stroke-width="1.1" fill="none"/>
<rect x="465.40" y="602.80" width="7.00" height="11.00" fill="#2e2e2e" stroke="none" stroke-width="1" />
<rect x="467.40" y="613.60" width="3.00" height="4.00" fill="#d8d8d8" stroke="none" stroke-width="1" />
<line x1="468.80" y1="617.00" x2="468.80" y2="637.00" stroke="#6a6a68" stroke-width="1.2" />
<rect x="437.00" y="641.00" width="64.00" height="6.40" fill="#b4b4b2" stroke="none" stroke-width="1" />
<rect x="438.70" y="647.20" width="58.90" height="7.00" fill="#3a3a38" stroke="none" stroke-width="1" />
<rect x="428.00" y="655.00" width="84.00" height="2.40" fill="#c4c4c2" stroke="none" stroke-width="1" />
<rect x="426.90" y="657.20" width="85.60" height="1.50" fill="#7a7a78" stroke="none" stroke-width="1" />
<rect x="464.00" y="638.00" width="11.60" height="11.40" fill="#c8c8c6" stroke="none" stroke-width="1" />
<rect x="461.00" y="647.00" width="18.00" height="3.00" fill="#d6d6d4" stroke="none" stroke-width="1" />
<path d="M428.2,657 C434,640 446,636 464,637.6" stroke="#e6e6e2" stroke-width="1.2" fill="none"/>
<path d="M436.4,630 L437.6,648" stroke="#d0d0ce" stroke-width="2" fill="none"/><path d="M499.6,630 L497.8,648" stroke="#d0d0ce" stroke-width="2" fill="none"/><circle cx="436.6" cy="650" r="2.4" fill="#555"/><circle cx="498.4" cy="650" r="2.4" fill="#555"/>
<rect x="426.90" y="581.40" width="85.60" height="77.30" fill="none" stroke="#777" stroke-width="0.6" />
<rect x="594.20" y="582.10" width="87.70" height="77.60" fill="#5b9bd3" stroke="#4a86be" stroke-width="0.7" />
<rect x="610.40" y="591.20" width="64.40" height="3.00" fill="#3f78b0" stroke="none" stroke-width="1" />
<rect x="609.90" y="592.90" width="65.60" height="55.90" fill="#e9e2de" stroke="#d2d2da" stroke-width="0.8" />
<rect x="611.00" y="644.40" width="63.40" height="4.00" fill="#f4f2f0" stroke="none" stroke-width="1" />
<rect x="623.30" y="602.80" width="43.00" height="37.10" fill="#ece4e0" stroke="#a8a29e" stroke-width="0.9" />
<rect x="664.60" y="603.40" width="1.60" height="36.00" fill="#8e8884" stroke="none" stroke-width="1" />
<rect x="600.80" y="607.20" width="9.60" height="4.80" fill="#e2e6ee" stroke="none" stroke-width="1" />
<rect x="600.80" y="630.80" width="9.60" height="5.60" fill="#a4a8ae" stroke="none" stroke-width="1" />
<ellipse cx="639.0" cy="620.0" rx="1.5" ry="1.9" fill="#181818"/>
<ellipse cx="644.7" cy="620.0" rx="1.5" ry="1.9" fill="#181818"/>
<ellipse cx="649.0" cy="620.0" rx="1.5" ry="1.9" fill="#181818"/>
<rect x="409.20" y="494.90" width="285.60" height="176.60" fill="none" stroke="#1a1a1a" stroke-width="1.5" />
<line x1="406.20" y1="671.60" x2="409.20" y2="671.60" stroke="#1a1a1a" stroke-width="1.4" />
<text x="405.00" y="675.45" font-size="10.7" font-weight="bold" text-anchor="end" fill="#111" font-family="Liberation Sans, sans-serif" textLength="14.0" lengthAdjust="spacingAndGlyphs" >2.4</text>
<line x1="406.20" y1="621.10" x2="409.20" y2="621.10" stroke="#1a1a1a" stroke-width="1.4" />
<text x="405.00" y="624.95" font-size="10.7" font-weight="bold" text-anchor="end" fill="#111" font-family="Liberation Sans, sans-serif" textLength="14.0" lengthAdjust="spacingAndGlyphs" >2.8</text>
<line x1="406.20" y1="570.60" x2="409.20" y2="570.60" stroke="#1a1a1a" stroke-width="1.4" />
<text x="405.00" y="574.45" font-size="10.7" font-weight="bold" text-anchor="end" fill="#111" font-family="Liberation Sans, sans-serif" textLength="14.0" lengthAdjust="spacingAndGlyphs" >3.2</text>
<line x1="406.20" y1="520.10" x2="409.20" y2="520.10" stroke="#1a1a1a" stroke-width="1.4" />
<text x="405.00" y="523.95" font-size="10.7" font-weight="bold" text-anchor="end" fill="#111" font-family="Liberation Sans, sans-serif" textLength="14.0" lengthAdjust="spacingAndGlyphs" >3.6</text>
<line x1="407.50" y1="646.35" x2="409.20" y2="646.35" stroke="#1a1a1a" stroke-width="1.4" />
<line x1="407.50" y1="595.85" x2="409.20" y2="595.85" stroke="#1a1a1a" stroke-width="1.4" />
<line x1="407.50" y1="545.35" x2="409.20" y2="545.35" stroke="#1a1a1a" stroke-width="1.4" />
<line x1="410.20" y1="671.50" x2="410.20" y2="674.50" stroke="#1a1a1a" stroke-width="1.4" />
<text x="410.20" y="685.85" font-size="10.7" font-weight="bold" text-anchor="middle" fill="#111" font-family="Liberation Sans, sans-serif" textLength="5.3" lengthAdjust="spacingAndGlyphs" >0</text>
<line x1="449.50" y1="671.50" x2="449.50" y2="674.50" stroke="#1a1a1a" stroke-width="1.4" />
<text x="449.50" y="685.85" font-size="10.7" font-weight="bold" text-anchor="middle" fill="#111" font-family="Liberation Sans, sans-serif" textLength="5.3" lengthAdjust="spacingAndGlyphs" >2</text>
<line x1="488.80" y1="671.50" x2="488.80" y2="674.50" stroke="#1a1a1a" stroke-width="1.4" />
<text x="488.80" y="685.85" font-size="10.7" font-weight="bold" text-anchor="middle" fill="#111" font-family="Liberation Sans, sans-serif" textLength="5.3" lengthAdjust="spacingAndGlyphs" >4</text>
<line x1="528.10" y1="671.50" x2="528.10" y2="674.50" stroke="#1a1a1a" stroke-width="1.4" />
<text x="528.10" y="685.85" font-size="10.7" font-weight="bold" text-anchor="middle" fill="#111" font-family="Liberation Sans, sans-serif" textLength="5.3" lengthAdjust="spacingAndGlyphs" >6</text>
<line x1="567.40" y1="671.50" x2="567.40" y2="674.50" stroke="#1a1a1a" stroke-width="1.4" />
<text x="567.40" y="685.85" font-size="10.7" font-weight="bold" text-anchor="middle" fill="#111" font-family="Liberation Sans, sans-serif" textLength="5.3" lengthAdjust="spacingAndGlyphs" >8</text>
<line x1="606.70" y1="671.50" x2="606.70" y2="674.50" stroke="#1a1a1a" stroke-width="1.4" />
<text x="606.70" y="685.85" font-size="10.7" font-weight="bold" text-anchor="middle" fill="#111" font-family="Liberation Sans, sans-serif" textLength="10.6" lengthAdjust="spacingAndGlyphs" >10</text>
<line x1="646.00" y1="671.50" x2="646.00" y2="674.50" stroke="#1a1a1a" stroke-width="1.4" />
<text x="646.00" y="685.85" font-size="10.7" font-weight="bold" text-anchor="middle" fill="#111" font-family="Liberation Sans, sans-serif" textLength="10.6" lengthAdjust="spacingAndGlyphs" >12</text>
<line x1="685.30" y1="671.50" x2="685.30" y2="674.50" stroke="#1a1a1a" stroke-width="1.4" />
<text x="685.30" y="685.85" font-size="10.7" font-weight="bold" text-anchor="middle" fill="#111" font-family="Liberation Sans, sans-serif" textLength="10.6" lengthAdjust="spacingAndGlyphs" >14</text>
<line x1="429.85" y1="671.50" x2="429.85" y2="673.20" stroke="#1a1a1a" stroke-width="1.4" />
<line x1="469.15" y1="671.50" x2="469.15" y2="673.20" stroke="#1a1a1a" stroke-width="1.4" />
<line x1="508.45" y1="671.50" x2="508.45" y2="673.20" stroke="#1a1a1a" stroke-width="1.4" />
<line x1="547.75" y1="671.50" x2="547.75" y2="673.20" stroke="#1a1a1a" stroke-width="1.4" />
<line x1="587.05" y1="671.50" x2="587.05" y2="673.20" stroke="#1a1a1a" stroke-width="1.4" />
<line x1="626.35" y1="671.50" x2="626.35" y2="673.20" stroke="#1a1a1a" stroke-width="1.4" />
<line x1="665.65" y1="671.50" x2="665.65" y2="673.20" stroke="#1a1a1a" stroke-width="1.4" />
<text x="551.80" y="700.14" font-size="12.6" font-weight="bold" text-anchor="middle" fill="#111" font-family="Liberation Sans, sans-serif" textLength="41.7" lengthAdjust="spacingAndGlyphs" >Time (h)</text>
<text x="384.90" y="576.40" font-size="12.6" font-weight="bold" text-anchor="middle" fill="#111" font-family="Liberation Sans, sans-serif" textLength="66.0" lengthAdjust="spacingAndGlyphs" transform="rotate(-90 384.90 576.40)">Voltage (V)</text>
<text x="390.60" y="496.00" font-size="21" font-weight="bold" text-anchor="start" fill="#111" font-family="Liberation Sans, sans-serif" >h</text>
<text x="469.80" y="575.70" font-size="11.4" font-weight="bold" text-anchor="middle" fill="#1a1a1a" font-family="Liberation Sans, sans-serif" textLength="21.2" lengthAdjust="spacingAndGlyphs" >Nail</text>
<text x="627.40" y="559.84" font-size="11.5" font-weight="bold" text-anchor="middle" fill="#1a1a1a" font-family="Liberation Sans, sans-serif" textLength="106.4" lengthAdjust="spacingAndGlyphs" >Broken cell without</text>
<text x="627.10" y="574.34" font-size="11.5" font-weight="bold" text-anchor="middle" fill="#1a1a1a" font-family="Liberation Sans, sans-serif" textLength="127.8" lengthAdjust="spacingAndGlyphs" >leaking, smoke and fire</text>
<text x="711.60" y="496.00" font-size="21" font-weight="bold" text-anchor="start" fill="#111" font-family="Liberation Sans, sans-serif" >i</text>
<text x="757.60" y="493.03" font-size="11.2" font-weight="bold" text-anchor="middle" fill="#111" font-family="Liberation Sans, sans-serif" textLength="29.4" lengthAdjust="spacingAndGlyphs" >initial</text>
<text x="838.80" y="493.03" font-size="11.2" font-weight="bold" text-anchor="middle" fill="#111" font-family="Liberation Sans, sans-serif" textLength="21.9" lengthAdjust="spacingAndGlyphs" >20 s</text>
<text x="915.80" y="493.03" font-size="11.2" font-weight="bold" text-anchor="middle" fill="#111" font-family="Liberation Sans, sans-serif" textLength="21.6" lengthAdjust="spacingAndGlyphs" >50 s</text>
<g clip-path="url(#ci00)">
<rect x="723.20" y="496.10" width="74.90" height="54.60" fill="#01055f" stroke="none" stroke-width="1" />
<rect x="723.20" y="496.10" width="74.90" height="21.84" fill="#00024e" stroke="none" stroke-width="1" opacity="0.5"/>
<rect x="723.20" y="512.48" width="74.90" height="38.22" fill="#1238a0" stroke="none" stroke-width="1" filter="url(#tnoise)" opacity="0.55"/>
<rect x="719.2" y="520.1" width="82.9" height="25.0" rx="4" fill="#0a2492" opacity="0.9" filter="url(#b3)"/>
<rect x="725.2" y="523.1" width="46.0" height="19.0" rx="3" fill="#0f38aa" opacity="0.85" filter="url(#b2)"/>
<rect x="748.2" y="525.1" width="22.0" height="15.0" rx="2" fill="#1242b4" opacity="0.85" filter="url(#b1)"/>
<rect x="779.2" y="523.1" width="22.0" height="19.0" rx="4" fill="#1a54c4" opacity="0.9" filter="url(#b2)"/>
<ellipse cx="743.2" cy="548.1" rx="14" ry="4" fill="#0a2492" filter="url(#b2)" opacity="0.7" transform="rotate(0 743.2 548.1)"/>
<polyline points="723.2,521.3 798.1,522.3" fill="none" stroke="#bcc8e8" stroke-width="0.90" opacity="0.70"/>
<polyline points="723.2,523.7 771.2,523.9" fill="none" stroke="#bcc8e8" stroke-width="0.90" opacity="0.55"/>
<polyline points="753.2,525.7 767.8,525.7 767.8,527.5 753.2,527.5" fill="none" stroke="#e0e8fa" stroke-width="0.90" opacity="0.95"/>
<polyline points="723.2,536.9 747.2,536.9 748.2,539.1 771.2,539.1 773.2,542.7 798.1,540.7" fill="none" stroke="#bcc8e8" stroke-width="0.90" opacity="0.90"/>
<polyline points="747.2,537.3 769.2,537.7" fill="none" stroke="#dce6fa" stroke-width="0.90" opacity="0.90"/>
<polyline points="723.2,541.5 771.2,543.7 798.1,543.9" fill="none" stroke="#bcc8e8" stroke-width="0.90" opacity="0.80"/>
<polyline points="775.2,540.9 798.1,539.3" fill="none" stroke="#bcc8e8" stroke-width="1.00" opacity="0.80"/>
</g>
<g clip-path="url(#ci01)">
<rect x="800.50" y="496.10" width="74.90" height="54.60" fill="#01055f" stroke="none" stroke-width="1" />
<rect x="800.50" y="496.10" width="74.90" height="21.84" fill="#00024e" stroke="none" stroke-width="1" opacity="0.5"/>
<rect x="800.50" y="512.48" width="74.90" height="38.22" fill="#1238a0" stroke="none" stroke-width="1" filter="url(#tnoise)" opacity="0.55"/>
<rect x="796.5" y="520.1" width="82.9" height="25.0" rx="4" fill="#0a2492" opacity="0.9" filter="url(#b3)"/>
<rect x="860.5" y="523.1" width="16.0" height="18.0" rx="5" fill="#1e64d4" opacity="0.95" filter="url(#b2)"/>
<rect x="806.5" y="526.1" width="20.0" height="12.0" rx="4" fill="#0f38aa" opacity="0.7" filter="url(#b2)"/>
<g filter="url(#rough)">
<rect x="821.5" y="517.1" width="35.5" height="29.0" rx="8" fill="#2680e4" opacity="1" filter="url(#b2)"/>
<rect x="824.1" y="519.7" width="30.4" height="24.0" rx="6" fill="#2cb4c4" opacity="1" filter="url(#b15)"/>
<ellipse cx="840.7" cy="545.1" rx="3.6" ry="3.2" fill="#4cc048" filter="url(#b1)" opacity="1" transform="rotate(0 840.7 545.1)"/>
<rect x="825.9" y="522.3" width="26.6" height="18.0" rx="4" fill="#4cc048" opacity="1" filter="url(#b1)"/>
<rect x="826.9" y="524.1" width="24.6" height="14.6" rx="2.5" fill="#ece022" opacity="1" filter="url(#b1)"/>
<rect x="828.3" y="525.5" width="22.4" height="12.0" rx="2" fill="#f69a22" opacity="1" filter="url(#b1)"/>
<rect x="839.1" y="524.9" width="11.6" height="8.6" rx="3" fill="#ea3232" opacity="1" filter="url(#b1)"/>
<ellipse cx="845.5" cy="527.7" rx="3.0" ry="2.0" fill="#f45880" filter="url(#b07)" opacity="1" transform="rotate(0 845.5 527.7)"/>
</g>
<ellipse cx="865.1" cy="501.1" rx="3.2" ry="2.0" fill="#2aa0d8" filter="url(#b1)" opacity="0.9" transform="rotate(0 865.1 501.1)"/>
<polyline points="800.5,521.7 826.5,522.7" fill="none" stroke="#bcc8e8" stroke-width="0.90" opacity="0.80"/>
<polyline points="854.5,520.9 875.4,522.9" fill="none" stroke="#bcc8e8" stroke-width="0.90" opacity="0.70"/>
<polyline points="800.5,536.7 826.5,538.7" fill="none" stroke="#bcc8e8" stroke-width="0.90" opacity="0.85"/>
<polyline points="852.5,539.5 875.4,538.7" fill="none" stroke="#bcc8e8" stroke-width="1.00" opacity="0.90"/>
<polyline points="800.5,540.7 830.5,542.7 850.5,542.7 875.4,542.3" fill="none" stroke="#bcc8e8" stroke-width="0.90" opacity="0.70"/>
<polyline points="827.5,538.7 850.5,538.7" fill="none" stroke="#141850" stroke-width="1.00" opacity="1.00"/>
<polyline points="839.3,496.1 839.3,524.1" fill="none" stroke="#bcc8e8" stroke-width="0.90" opacity="0.80"/>
<polyline points="829.5,496.1 833.5,508.1" fill="none" stroke="#bcc8e8" stroke-width="0.90" opacity="0.65"/>
<polyline points="831.5,496.1 835.5,508.1" fill="none" stroke="#bcc8e8" stroke-width="0.90" opacity="0.55"/>
<polyline points="842.5,496.1 848.5,512.1" fill="none" stroke="#bcc8e8" stroke-width="0.90" opacity="0.65"/>
<polyline points="844.9,496.1 850.9,512.1" fill="none" stroke="#bcc8e8" stroke-width="0.90" opacity="0.55"/>
</g>
<g clip-path="url(#ci02)">
<rect x="877.80" y="496.10" width="74.90" height="54.60" fill="#01055f" stroke="none" stroke-width="1" />
<rect x="877.80" y="496.10" width="74.90" height="21.84" fill="#00024e" stroke="none" stroke-width="1" opacity="0.5"/>
<rect x="877.80" y="512.48" width="74.90" height="38.22" fill="#1238a0" stroke="none" stroke-width="1" filter="url(#tnoise)" opacity="0.55"/>
<rect x="873.8" y="520.1" width="82.9" height="25.0" rx="4" fill="#0a2492" opacity="0.9" filter="url(#b3)"/>
<rect x="931.8" y="524.1" width="18.0" height="16.0" rx="5" fill="#1a50c2" opacity="0.9" filter="url(#b2)"/>
<rect x="879.8" y="526.1" width="18.0" height="13.0" rx="4" fill="#0f38aa" opacity="0.8" filter="url(#b2)"/>
<g filter="url(#rough)">
<rect x="893.2" y="507.5" width="39.6" height="42.6" rx="10" fill="#2680e4" opacity="1" filter="url(#b2)"/>
<rect x="895.8" y="510.1" width="34.6" height="36.6" rx="9" fill="#4cc048" opacity="1" filter="url(#b15)"/>
<ellipse cx="907.8" cy="512.6" rx="8" ry="4.5" fill="#ece022" filter="url(#b1)" opacity="0.95" transform="rotate(0 907.8 512.6)"/>
<ellipse cx="920.8" cy="513.6" rx="6" ry="4" fill="#ece022" filter="url(#b1)" opacity="0.9" transform="rotate(0 920.8 513.6)"/>
<rect x="897.2" y="512.7" width="31.6" height="31.6" rx="8" fill="#ece022" opacity="1" filter="url(#b1)"/>
<ellipse cx="915.4" cy="545.5" rx="6.6" ry="3.0" fill="#ece022" filter="url(#b1)" opacity="1" transform="rotate(0 915.4 545.5)"/>
<rect x="898.8" y="515.5" width="28.4" height="26.4" rx="6" fill="#f69a22" opacity="1" filter="url(#b1)"/>
<rect x="899.8" y="516.5" width="26.6" height="24.6" rx="5" fill="#ea3232" opacity="1" filter="url(#b1)"/>
<rect x="901.4" y="518.1" width="22.4" height="21.6" rx="3.5" fill="#f8c8c4" opacity="1" filter="url(#b07)"/>
<rect x="902.4" y="519.5" width="20.4" height="18.4" rx="3" fill="#fdeee6" opacity="1" filter="url(#b07)"/>
</g>
<polyline points="902.8,535.7 921.8,535.7" fill="none" stroke="#7a2420" stroke-width="1.00" opacity="0.95"/>
<polyline points="906.8,522.1 918.8,521.7" fill="none" stroke="#6a6a6a" stroke-width="0.80" opacity="0.80"/>
<polyline points="877.8,521.5 899.8,522.1" fill="none" stroke="#bcc8e8" stroke-width="0.90" opacity="0.80"/>
<polyline points="927.8,522.1 939.8,520.5" fill="none" stroke="#bcc8e8" stroke-width="0.90" opacity="0.60"/>
<polyline points="877.8,536.3 899.8,536.7" fill="none" stroke="#bcc8e8" stroke-width="0.90" opacity="0.80"/>
<polyline points="927.8,537.5 952.7,537.7" fill="none" stroke="#bcc8e8" stroke-width="1.00" opacity="0.90"/>
<polyline points="877.8,539.7 901.8,541.5" fill="none" stroke="#bcc8e8" stroke-width="0.90" opacity="0.70"/>
<polyline points="925.8,541.7 952.7,541.3" fill="none" stroke="#bcc8e8" stroke-width="1.00" opacity="0.80"/>
<polyline points="911.2,496.1 911.2,512.1" fill="none" stroke="#bcc8e8" stroke-width="0.90" opacity="0.80"/>
<polyline points="901.8,496.1 907.8,509.1" fill="none" stroke="#bcc8e8" stroke-width="0.90" opacity="0.65"/>
<polyline points="904.2,496.1 909.8,509.1" fill="none" stroke="#bcc8e8" stroke-width="0.90" opacity="0.55"/>
<polyline points="912.8,497.1 920.8,507.1" fill="none" stroke="#bcc8e8" stroke-width="0.90" opacity="0.65"/>
<polyline points="914.8,496.1 922.8,506.1" fill="none" stroke="#bcc8e8" stroke-width="0.90" opacity="0.55"/>
<polyline points="878.8,500.1 887.8,497.5 899.8,496.5" fill="none" stroke="#bcc8e8" stroke-width="0.90" opacity="0.60"/>
</g>
<g clip-path="url(#ci10)">
<rect x="723.20" y="555.90" width="74.90" height="54.60" fill="#01055f" stroke="none" stroke-width="1" />
<rect x="723.20" y="555.90" width="74.90" height="21.84" fill="#00024e" stroke="none" stroke-width="1" opacity="0.5"/>
<rect x="723.20" y="572.28" width="74.90" height="38.22" fill="#1238a0" stroke="none" stroke-width="1" filter="url(#tnoise)" opacity="0.55"/>
<rect x="719.2" y="578.5" width="82.9" height="22.0" rx="3" fill="#0a2492" opacity="0.95" filter="url(#b2)"/>
<rect x="724.2" y="580.5" width="46.0" height="18.0" rx="2" fill="#0d2e9c" opacity="0.9" filter="url(#b1)"/>
<rect x="775.2" y="579.9" width="24.0" height="17.0" rx="3" fill="#1036a6" opacity="0.9" filter="url(#b1)"/>
<ellipse cx="781.2" cy="606.9" rx="7" ry="3" fill="#0a2492" filter="url(#b1)" opacity="0.7" transform="rotate(0 781.2 606.9)"/>
<polyline points="723.2,575.5 733.2,579.5 747.2,582.1 773.2,582.3" fill="none" stroke="#bcc8e8" stroke-width="0.90" opacity="0.80"/>
<polyline points="746.2,581.5 771.2,581.7" fill="none" stroke="#dce6fa" stroke-width="0.90" opacity="0.80"/>
<polyline points="775.2,580.5 798.1,580.1" fill="none" stroke="#bcc8e8" stroke-width="0.90" opacity="0.60"/>
<polyline points="755.2,563.9 759.2,572.5 763.2,572.5 762.2,564.9" fill="none" stroke="#bcc8e8" stroke-width="0.90" opacity="0.80"/>
<polyline points="771.2,562.9 772.6,572.9 775.8,572.9 775.2,562.9" fill="none" stroke="#bcc8e8" stroke-width="0.90" opacity="0.80"/>
<polyline points="743.2,567.9 757.2,570.5 769.2,574.5" fill="none" stroke="#bcc8e8" stroke-width="0.90" opacity="0.60"/>
<polyline points="723.2,594.5 743.2,594.9" fill="none" stroke="#bcc8e8" stroke-width="0.90" opacity="0.80"/>
<polyline points="750.2,596.3 771.2,596.7" fill="none" stroke="#bcc8e8" stroke-width="0.90" opacity="0.80"/>
<polyline points="723.2,598.5 743.2,599.1 745.2,601.5 773.2,601.5 775.2,598.3 798.1,599.3" fill="none" stroke="#bcc8e8" stroke-width="1.00" opacity="0.90"/>
<polyline points="740.2,605.1 772.2,605.5 774.2,603.1 798.1,603.3" fill="none" stroke="#bcc8e8" stroke-width="0.90" opacity="0.80"/>
<polyline points="773.2,579.9 769.2,600.9" fill="none" stroke="#bcc8e8" stroke-width="0.90" opacity="0.65"/>
<polyline points="776.8,579.9 773.2,600.9" fill="none" stroke="#bcc8e8" stroke-width="0.90" opacity="0.55"/>
</g>
<g clip-path="url(#ci11)">
<rect x="800.50" y="555.90" width="74.90" height="54.60" fill="#01055f" stroke="none" stroke-width="1" />
<rect x="800.50" y="555.90" width="74.90" height="21.84" fill="#00024e" stroke="none" stroke-width="1" opacity="0.5"/>
<rect x="800.50" y="572.28" width="74.90" height="38.22" fill="#1238a0" stroke="none" stroke-width="1" filter="url(#tnoise)" opacity="0.55"/>
<rect x="804.5" y="579.9" width="20.0" height="16.0" rx="5" fill="#0f38aa" opacity="0.8" filter="url(#b2)"/>
<rect x="856.5" y="578.9" width="22.0" height="16.0" rx="5" fill="#184ab8" opacity="0.75" filter="url(#b2)"/>
<ellipse cx="860.5" cy="607.3" rx="6" ry="2.6" fill="#0f38aa" filter="url(#b1)" opacity="0.7" transform="rotate(0 860.5 607.3)"/>
<g filter="url(#rough)">
<polygon points="812.4,602.8 819.9,573.9 860.6,574.9 855.1,607.4" fill="#1e62d2" opacity="0.9" stroke="#1e62d2" stroke-width="1.5" stroke-linejoin="round" filter="url(#b3)"/>
<polygon points="816.3,600.7 823.1,576.9 856.9,577.3 852.0,604.3" fill="#2680e4" opacity="1" stroke="#2680e4" stroke-width="1.5" stroke-linejoin="round" filter="url(#b2)"/>
<polygon points="819.1,599.3 825.4,579.0 854.2,579.0 849.7,602.1" fill="#2cb4c4" opacity="1" stroke="#2cb4c4" stroke-width="1.5" stroke-linejoin="round" filter="url(#b15)"/>
<polygon points="821.2,598.2 827.2,580.7 852.2,580.3 847.9,600.4" fill="#4cc048" opacity="1" stroke="#4cc048" stroke-width="1.5" stroke-linejoin="round" filter="url(#b1)"/>
<polygon points="822.8,597.4 828.5,581.9 850.7,581.3 846.7,599.1" fill="#a8d42c" opacity="1" stroke="#a8d42c" stroke-width="1.5" stroke-linejoin="round" filter="url(#b1)"/>
<polygon points="824.4,596.5 829.8,583.1 849.2,582.2 845.4,597.9" fill="#e4dc26" opacity="1" stroke="#e4dc26" stroke-width="1.5" stroke-linejoin="round" filter="url(#b07)"/>
</g>
<polyline points="824.5,598.1 845.5,599.3" fill="none" stroke="#141850" stroke-width="1.00" opacity="1.00"/>
<polyline points="835.5,585.3 847.5,584.9 846.5,588.9" fill="none" stroke="#f4f0b0" stroke-width="0.70" opacity="0.80"/>
<polyline points="801.5,567.9 814.5,562.9 834.5,561.1 846.5,561.3 849.9,563.9 851.1,573.3 852.9,573.5 851.9,563.9" fill="none" stroke="#bcc8e8" stroke-width="0.90" opacity="0.80"/>
<polyline points="802.5,563.9 830.5,564.5 844.5,572.9" fill="none" stroke="#bcc8e8" stroke-width="0.90" opacity="0.55"/>
<polyline points="833.1,555.9 834.5,569.9 836.5,580.9" fill="none" stroke="#bcc8e8" stroke-width="0.90" opacity="0.80"/>
<polyline points="801.5,574.9 812.5,579.5 822.5,581.5" fill="none" stroke="#bcc8e8" stroke-width="0.90" opacity="0.80"/>
<polyline points="800.5,594.5 818.5,595.1" fill="none" stroke="#bcc8e8" stroke-width="0.90" opacity="0.75"/>
<polyline points="800.5,598.3 820.5,599.5" fill="none" stroke="#bcc8e8" stroke-width="1.00" opacity="0.85"/>
<polyline points="852.5,581.3 875.4,582.5" fill="none" stroke="#bcc8e8" stroke-width="0.90" opacity="0.55"/>
<polyline points="850.5,598.5 875.4,597.9" fill="none" stroke="#bcc8e8" stroke-width="1.00" opacity="0.85"/>
<polyline points="816.5,603.9 846.5,605.5 849.5,602.3 875.4,602.3" fill="none" stroke="#bcc8e8" stroke-width="1.00" opacity="0.85"/>
</g>
<g clip-path="url(#ci12)">
<rect x="877.80" y="555.90" width="74.90" height="54.60" fill="#01055f" stroke="none" stroke-width="1" />
<rect x="877.80" y="555.90" width="74.90" height="21.84" fill="#00024e" stroke="none" stroke-width="1" opacity="0.5"/>
<rect x="877.80" y="572.28" width="74.90" height="38.22" fill="#1238a0" stroke="none" stroke-width="1" filter="url(#tnoise)" opacity="0.55"/>
<rect x="881.8" y="579.9" width="20.0" height="16.0" rx="5" fill="#0f38aa" opacity="0.8" filter="url(#b2)"/>
<rect x="933.8" y="578.9" width="22.0" height="16.0" rx="5" fill="#184ab8" opacity="0.75" filter="url(#b2)"/>
<ellipse cx="937.8" cy="607.3" rx="6" ry="2.6" fill="#0f38aa" filter="url(#b1)" opacity="0.7" transform="rotate(0 937.8 607.3)"/>
<g filter="url(#rough)">
<polygon points="888.0,604.1 897.9,569.7 939.0,572.4 936.6,605.3" fill="#1e62d2" opacity="0.9" stroke="#1e62d2" stroke-width="1.5" stroke-linejoin="round" filter="url(#b3)"/>
<polygon points="891.8,601.9 900.8,572.9 935.3,574.9 933.2,602.6" fill="#2680e4" opacity="1" stroke="#2680e4" stroke-width="1.5" stroke-linejoin="round" filter="url(#b2)"/>
<polygon points="894.8,600.2 903.1,575.4 932.5,576.8 930.5,600.5" fill="#2cb4c4" opacity="1" stroke="#2cb4c4" stroke-width="1.5" stroke-linejoin="round" filter="url(#b15)"/>
<polygon points="896.7,599.1 904.6,577.0 930.7,578.0 928.8,599.1" fill="#4cc048" opacity="1" stroke="#4cc048" stroke-width="1.5" stroke-linejoin="round" filter="url(#b1)"/>
<polygon points="898.2,598.2 905.9,578.4 929.2,579.0 927.4,598.0" fill="#ece022" opacity="1" stroke="#ece022" stroke-width="1.5" stroke-linejoin="round" filter="url(#b1)"/>
<polygon points="900.1,597.1 907.4,580.0 927.3,580.2 925.6,596.7" fill="#f69a22" opacity="1" stroke="#f69a22" stroke-width="1.5" stroke-linejoin="round" filter="url(#b1)"/>
<polygon points="901.8,593.5 907.9,581.6 925.6,582.3 922.7,595.0" fill="#ea3232" opacity="1" stroke="#ea3232" stroke-width="1.5" stroke-linejoin="round" filter="url(#b07)"/>
<polyline points="913.6,583.7 921.4,584.3" fill="none" stroke="#f690a4" stroke-width="1.40" opacity="1.00"/>
<ellipse cx="917.8" cy="589.9" rx="6" ry="3" fill="#f05a30" filter="url(#b1)" opacity="0.8" transform="rotate(0 917.8 589.9)"/>
</g>
<polyline points="898.8,599.3 924.8,599.7" fill="none" stroke="#141850" stroke-width="1.00" opacity="1.00"/>
<polyline points="878.8,567.9 891.8,562.9 911.8,561.1 923.8,561.3 927.2,563.9 928.4,573.3 930.2,573.5 929.2,563.9" fill="none" stroke="#bcc8e8" stroke-width="0.90" opacity="0.80"/>
<polyline points="879.8,563.9 907.8,564.5 921.8,572.9" fill="none" stroke="#bcc8e8" stroke-width="0.90" opacity="0.55"/>
<polyline points="910.4,555.9 911.8,569.9 913.8,580.9" fill="none" stroke="#bcc8e8" stroke-width="0.90" opacity="0.80"/>
<polyline points="878.8,574.9 889.8,579.5 899.8,581.5" fill="none" stroke="#bcc8e8" stroke-width="0.90" opacity="0.80"/>
<polyline points="877.8,594.5 895.8,595.1" fill="none" stroke="#bcc8e8" stroke-width="0.90" opacity="0.75"/>
<polyline points="877.8,598.3 897.8,599.5" fill="none" stroke="#bcc8e8" stroke-width="1.00" opacity="0.85"/>
<polyline points="929.8,581.3 952.7,582.5" fill="none" stroke="#bcc8e8" stroke-width="0.90" opacity="0.55"/>
<polyline points="927.8,598.5 952.7,597.9" fill="none" stroke="#bcc8e8" stroke-width="1.00" opacity="0.85"/>
<polyline points="893.8,603.9 923.8,605.5 926.8,602.3 952.7,602.3" fill="none" stroke="#bcc8e8" stroke-width="1.00" opacity="0.85"/>
</g>
<g clip-path="url(#ci20)">
<rect x="723.20" y="615.80" width="74.90" height="54.60" fill="#01055f" stroke="none" stroke-width="1" />
<rect x="723.20" y="615.80" width="74.90" height="21.84" fill="#00024e" stroke="none" stroke-width="1" opacity="0.5"/>
<rect x="723.20" y="632.18" width="74.90" height="38.22" fill="#1238a0" stroke="none" stroke-width="1" filter="url(#tnoise)" opacity="0.55"/>
<rect x="744.2" y="637.8" width="32.0" height="27.0" rx="8" fill="#0f38aa" opacity="0.95" filter="url(#b2)"/>
<rect x="747.2" y="644.8" width="26.0" height="17.0" rx="3" fill="#1a58cc" opacity="1" filter="url(#b15)"/>
<ellipse cx="778.2" cy="618.8" rx="10" ry="3" fill="#0a2492" filter="url(#b1)" opacity="0.7" transform="rotate(0 778.2 618.8)"/>
<ellipse cx="757.2" cy="666.8" rx="12" ry="3" fill="#0a2492" filter="url(#b1)" opacity="0.7" transform="rotate(0 757.2 666.8)"/>
<polyline points="723.2,644.4 747.2,642.2 765.2,641.6" fill="none" stroke="#bcc8e8" stroke-width="0.90" opacity="0.85"/>
<polyline points="723.2,646.8 747.2,644.8" fill="none" stroke="#bcc8e8" stroke-width="0.90" opacity="0.65"/>
<polyline points="748.6,642.6 770.8,642.6 771.8,660.2 745.6,660.2 748.6,642.6" fill="none" stroke="#b8c8ee" stroke-width="0.90" opacity="0.90"/>
<polyline points="748.2,641.2 765.8,641.2" fill="none" stroke="#e0e8fa" stroke-width="1.00" opacity="0.95"/>
<polyline points="723.2,658.4 745.2,658.8" fill="none" stroke="#bcc8e8" stroke-width="0.90" opacity="0.85"/>
<polyline points="772.2,659.2 798.1,660.4" fill="none" stroke="#bcc8e8" stroke-width="0.90" opacity="0.85"/>
<polyline points="723.2,661.8 741.2,662.4 743.2,664.4 773.2,664.8 775.2,662.8 798.1,664.0" fill="none" stroke="#bcc8e8" stroke-width="1.00" opacity="0.90"/>
<polyline points="756.2,615.8 756.8,633.8" fill="none" stroke="#bcc8e8" stroke-width="0.90" opacity="0.70"/>
<polyline points="766.2,615.8 767.2,631.8" fill="none" stroke="#bcc8e8" stroke-width="0.90" opacity="0.60"/>
<polyline points="771.2,641.8 773.2,655.8" fill="none" stroke="#bcc8e8" stroke-width="0.90" opacity="0.50"/>
</g>
<g clip-path="url(#ci21)">
<rect x="800.50" y="615.80" width="74.90" height="54.60" fill="#01055f" stroke="none" stroke-width="1" />
<rect x="800.50" y="615.80" width="74.90" height="21.84" fill="#00024e" stroke="none" stroke-width="1" opacity="0.5"/>
<rect x="800.50" y="632.18" width="74.90" height="38.22" fill="#1238a0" stroke="none" stroke-width="1" filter="url(#tnoise)" opacity="0.55"/>
<rect x="821.9" y="632.8" width="32.0" height="33.0" rx="9" fill="#0f38aa" opacity="1" filter="url(#b2)"/>
<rect x="825.3" y="643.2" width="25.2" height="19.0" rx="3" fill="#1e64d6" opacity="1" filter="url(#b15)"/>
<ellipse cx="856.5" cy="619.8" rx="5.6" ry="3.4" fill="#1a50c0" filter="url(#b1)" opacity="0.85" transform="rotate(0 856.5 619.8)"/>
<ellipse cx="839.9" cy="667.8" rx="12" ry="3" fill="#0a2492" filter="url(#b1)" opacity="0.7" transform="rotate(0 839.9 667.8)"/>
<polyline points="800.5,647.2 812.5,645.4 824.9,644.4" fill="none" stroke="#bcc8e8" stroke-width="0.90" opacity="0.80"/>
<polyline points="800.5,649.4 824.9,646.6" fill="none" stroke="#bcc8e8" stroke-width="0.90" opacity="0.60"/>
<polyline points="825.3,643.4 850.5,643.4 851.3,661.2 823.3,661.2 825.3,643.4" fill="none" stroke="#b8c8ee" stroke-width="0.90" opacity="0.85"/>
<polyline points="830.9,642.2 843.9,642.2" fill="none" stroke="#e8eefc" stroke-width="1.10" opacity="1.00"/>
<polyline points="850.9,645.2 875.4,644.0" fill="none" stroke="#bcc8e8" stroke-width="0.90" opacity="0.60"/>
<polyline points="800.5,658.2 822.9,659.2" fill="none" stroke="#bcc8e8" stroke-width="0.90" opacity="0.80"/>
<polyline points="851.9,659.8 875.4,660.6" fill="none" stroke="#bcc8e8" stroke-width="0.90" opacity="0.85"/>
<polyline points="800.5,661.4 819.9,662.4 821.9,664.6 852.9,665.2 854.9,662.8 875.4,663.6" fill="none" stroke="#bcc8e8" stroke-width="1.00" opacity="0.90"/>
<polyline points="836.5,615.8 836.9,641.8" fill="none" stroke="#bcc8e8" stroke-width="0.90" opacity="0.80"/>
<polyline points="817.5,616.8 828.5,623.8 833.5,631.8" fill="none" stroke="#bcc8e8" stroke-width="0.90" opacity="0.70"/>
<polyline points="819.5,615.8 830.5,622.8 835.5,630.8" fill="none" stroke="#bcc8e8" stroke-width="0.90" opacity="0.55"/>
<polyline points="845.9,615.8 847.3,629.8" fill="none" stroke="#bcc8e8" stroke-width="0.90" opacity="0.60"/>
<polyline points="801.5,618.8 812.5,616.4" fill="none" stroke="#bcc8e8" stroke-width="0.90" opacity="0.60"/>
</g>
<g clip-path="url(#ci22)">
<rect x="877.80" y="615.80" width="74.90" height="54.60" fill="#01055f" stroke="none" stroke-width="1" />
<rect x="877.80" y="615.80" width="74.90" height="21.84" fill="#00024e" stroke="none" stroke-width="1" opacity="0.5"/>
<rect x="877.80" y="632.18" width="74.90" height="38.22" fill="#1238a0" stroke="none" stroke-width="1" filter="url(#tnoise)" opacity="0.55"/>
<rect x="900.0" y="632.8" width="32.0" height="33.0" rx="9" fill="#1a50c0" opacity="1" filter="url(#b2)"/>
<rect x="903.4" y="643.2" width="25.2" height="19.0" rx="3" fill="#2478e0" opacity="1" filter="url(#b15)"/>
<ellipse cx="916.4" cy="651.8" rx="8.6" ry="6.0" fill="#2a92e4" filter="url(#b1)" opacity="0.9" transform="rotate(0 916.4 651.8)"/>
<polyline points="914.0,654.4 917.4,650.4 921.0,654.4" fill="none" stroke="#6cc85c" stroke-width="0.70" opacity="0.90"/>
<ellipse cx="933.8" cy="619.8" rx="5.6" ry="3.4" fill="#1a50c0" filter="url(#b1)" opacity="0.85" transform="rotate(0 933.8 619.8)"/>
<ellipse cx="918.0" cy="667.8" rx="12" ry="3" fill="#0a2492" filter="url(#b1)" opacity="0.7" transform="rotate(0 918.0 667.8)"/>
<polyline points="877.8,647.2 889.8,645.4 903.0,644.4" fill="none" stroke="#bcc8e8" stroke-width="0.90" opacity="0.80"/>
<polyline points="877.8,649.4 903.0,646.6" fill="none" stroke="#bcc8e8" stroke-width="0.90" opacity="0.60"/>
<polyline points="903.4,643.4 928.6,643.4 929.4,661.2 901.4,661.2 903.4,643.4" fill="none" stroke="#b8c8ee" stroke-width="0.90" opacity="0.85"/>
<polyline points="909.0,642.2 922.0,642.2" fill="none" stroke="#e8eefc" stroke-width="1.10" opacity="1.00"/>
<polyline points="929.0,645.2 952.7,644.0" fill="none" stroke="#bcc8e8" stroke-width="0.90" opacity="0.60"/>
<polyline points="877.8,658.2 901.0,659.2" fill="none" stroke="#bcc8e8" stroke-width="0.90" opacity="0.80"/>
<polyline points="930.0,659.8 952.7,660.6" fill="none" stroke="#bcc8e8" stroke-width="0.90" opacity="0.85"/>
<polyline points="877.8,661.4 898.0,662.4 900.0,664.6 931.0,665.2 933.0,662.8 952.7,663.6" fill="none" stroke="#bcc8e8" stroke-width="1.00" opacity="0.90"/>
<polyline points="914.6,615.8 915.0,641.8" fill="none" stroke="#bcc8e8" stroke-width="0.90" opacity="0.80"/>
<polyline points="894.8,616.8 905.8,623.8 910.8,631.8" fill="none" stroke="#bcc8e8" stroke-width="0.90" opacity="0.70"/>
<polyline points="896.8,615.8 907.8,622.8 912.8,630.8" fill="none" stroke="#bcc8e8" stroke-width="0.90" opacity="0.55"/>
<polyline points="924.0,615.8 925.4,629.8" fill="none" stroke="#bcc8e8" stroke-width="0.90" opacity="0.60"/>
<polyline points="878.8,618.8 889.8,616.4" fill="none" stroke="#bcc8e8" stroke-width="0.90" opacity="0.60"/>
</g>
<text x="726.00" y="507.10" font-size="10" font-weight="bold" text-anchor="start" fill="#e6e222" font-family="Liberation Sans, sans-serif" textLength="48.6" lengthAdjust="spacingAndGlyphs" >LFP|LE|Cu</text>
<text x="726.00" y="566.90" font-size="10" font-weight="bold" text-anchor="start" fill="#e6e222" font-family="Liberation Sans, sans-serif" textLength="57.0" lengthAdjust="spacingAndGlyphs" >LFP|GPE|Cu</text>
<text x="725.6" y="627.68" font-size="9.9" font-weight="bold" fill="#e6e222" font-family="Liberation Sans, sans-serif" textLength="76.2" lengthAdjust="spacingAndGlyphs">LFP@Li<tspan font-size="6.2" dy="2">2</tspan><tspan dy="-2">S|GPE|Cu</tspan></text>
<rect x="958.00" y="505.70" width="6.70" height="153.20" fill="url(#cbar)" stroke="#111" stroke-width="1.1" />
<line x1="964.70" y1="513.40" x2="967.20" y2="513.40" stroke="#111" stroke-width="1.0" />
<text x="967.60" y="516.86" font-size="9.6" font-weight="bold" text-anchor="start" fill="#111" font-family="Liberation Sans, sans-serif" textLength="10.2" lengthAdjust="spacingAndGlyphs" >80</text>
<line x1="964.70" y1="539.80" x2="967.20" y2="539.80" stroke="#111" stroke-width="1.0" />
<text x="967.60" y="543.26" font-size="9.6" font-weight="bold" text-anchor="start" fill="#111" font-family="Liberation Sans, sans-serif" textLength="10.2" lengthAdjust="spacingAndGlyphs" >70</text>
<line x1="964.70" y1="557.70" x2="967.20" y2="557.70" stroke="#111" stroke-width="1.0" />
<text x="967.60" y="561.16" font-size="9.6" font-weight="bold" text-anchor="start" fill="#111" font-family="Liberation Sans, sans-serif" textLength="10.2" lengthAdjust="spacingAndGlyphs" >60</text>
<line x1="964.70" y1="582.80" x2="967.20" y2="582.80" stroke="#111" stroke-width="1.0" />
<text x="967.60" y="586.26" font-size="9.6" font-weight="bold" text-anchor="start" fill="#111" font-family="Liberation Sans, sans-serif" textLength="10.2" lengthAdjust="spacingAndGlyphs" >50</text>
<line x1="964.70" y1="607.90" x2="967.20" y2="607.90" stroke="#111" stroke-width="1.0" />
<text x="967.60" y="611.36" font-size="9.6" font-weight="bold" text-anchor="start" fill="#111" font-family="Liberation Sans, sans-serif" textLength="10.2" lengthAdjust="spacingAndGlyphs" >40</text>
<line x1="964.70" y1="632.90" x2="967.20" y2="632.90" stroke="#111" stroke-width="1.0" />
<text x="967.60" y="636.36" font-size="9.6" font-weight="bold" text-anchor="start" fill="#111" font-family="Liberation Sans, sans-serif" textLength="10.2" lengthAdjust="spacingAndGlyphs" >30</text>
<line x1="964.70" y1="657.60" x2="967.20" y2="657.60" stroke="#111" stroke-width="1.0" />
<text x="967.60" y="661.06" font-size="9.6" font-weight="bold" text-anchor="start" fill="#111" font-family="Liberation Sans, sans-serif" textLength="10.2" lengthAdjust="spacingAndGlyphs" >20</text>
<text x="991.00" y="582.00" font-size="11.8" font-weight="bold" text-anchor="middle" fill="#111" font-family="Liberation Sans, sans-serif" textLength="93.0" lengthAdjust="spacingAndGlyphs" transform="rotate(-90 991.00 582.00)">Temperature (&#176;C)</text>
</svg>
</body></html>
